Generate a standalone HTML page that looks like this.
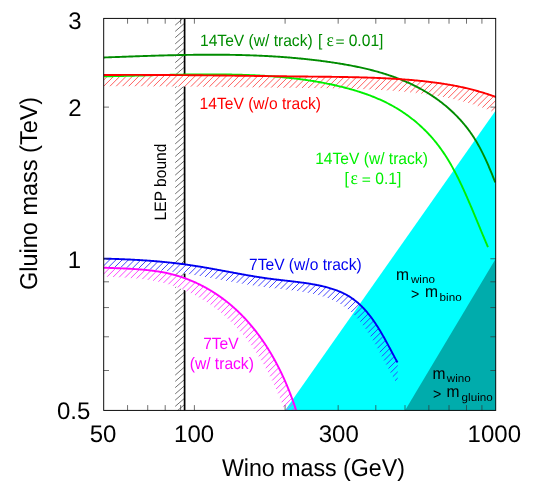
<!DOCTYPE html>
<html><head><meta charset="utf-8"><title>Gluino vs Wino mass</title>
<style>html,body{margin:0;padding:0;background:#fff;}svg{display:block;will-change:transform;font-family:"Liberation Sans",sans-serif;text-rendering:geometricPrecision;}</style>
</head><body>
<svg width="540" height="490" viewBox="0 0 540 490">
<rect x="0" y="0" width="540" height="490" fill="#fff"/>
<defs>
<clipPath id="plot"><rect x="103.70" y="18.40" width="392.00" height="392.00"/></clipPath>
<clipPath id="blueclip"><rect x="103.70" y="18.40" width="294.00" height="392.00"/></clipPath>
</defs>
<g clip-path="url(#plot)">
<path d="M175.20 12.65 L184.60 4.45 M175.20 18.90 L184.60 10.70 M175.20 25.15 L184.60 16.95 M175.20 31.40 L184.60 23.20 M175.20 37.65 L184.60 29.45 M175.20 43.90 L184.60 35.70 M175.20 50.15 L184.60 41.95 M175.20 56.40 L184.60 48.20 M175.20 62.65 L184.60 54.45 M175.20 68.90 L184.60 60.70 M175.20 75.15 L184.60 66.95 M175.20 81.40 L184.60 73.20 M175.20 87.65 L184.60 79.45 M175.20 93.90 L184.60 85.70 M175.20 100.15 L184.60 91.95 M175.20 106.40 L184.60 98.20 M175.20 112.65 L184.60 104.45 M175.20 118.90 L184.60 110.70 M175.20 125.15 L184.60 116.95 M175.20 131.40 L184.60 123.20 M175.20 137.65 L184.60 129.45 M175.20 143.90 L184.60 135.70 M175.20 150.15 L184.60 141.95 M175.20 156.40 L184.60 148.20 M175.20 162.65 L184.60 154.45 M175.20 168.90 L184.60 160.70 M175.20 175.15 L184.60 166.95 M175.20 181.40 L184.60 173.20 M175.20 187.65 L184.60 179.45 M175.20 193.90 L184.60 185.70 M175.20 200.15 L184.60 191.95 M175.20 206.40 L184.60 198.20 M175.20 212.65 L184.60 204.45 M175.20 218.90 L184.60 210.70 M175.20 225.15 L184.60 216.95 M175.20 231.40 L184.60 223.20 M175.20 237.65 L184.60 229.45 M175.20 243.90 L184.60 235.70 M175.20 250.15 L184.60 241.95 M175.20 256.40 L184.60 248.20 M175.20 262.65 L184.60 254.45 M175.20 268.90 L184.60 260.70 M175.20 275.15 L184.60 266.95 M175.20 281.40 L184.60 273.20 M175.20 287.65 L184.60 279.45 M175.20 293.90 L184.60 285.70 M175.20 300.15 L184.60 291.95 M175.20 306.40 L184.60 298.20 M175.20 312.65 L184.60 304.45 M175.20 318.90 L184.60 310.70 M175.20 325.15 L184.60 316.95 M175.20 331.40 L184.60 323.20 M175.20 337.65 L184.60 329.45 M175.20 343.90 L184.60 335.70 M175.20 350.15 L184.60 341.95 M175.20 356.40 L184.60 348.20 M175.20 362.65 L184.60 354.45 M175.20 368.90 L184.60 360.70 M175.20 375.15 L184.60 366.95 M175.20 381.40 L184.60 373.20 M175.20 387.65 L184.60 379.45 M175.20 393.90 L184.60 385.70 M175.20 400.15 L184.60 391.95 M175.20 406.40 L184.60 398.20 M175.20 412.65 L184.60 404.45 M175.20 418.90 L184.60 410.70" stroke="#222" stroke-width="0.65" fill="none"/>
<line x1="184.60" y1="18.40" x2="184.60" y2="410.40" stroke="#000" stroke-width="1.7"/>
<path d="M103.50 75.00 L104.52 74.99 L105.54 74.99 L106.56 74.98 L107.59 74.98 L108.61 74.97 L109.63 74.97 L110.65 74.96 L111.67 74.96 L112.69 74.95 L113.71 74.95 L114.74 74.95 L115.76 74.94 L116.78 74.94 L117.80 74.93 L118.82 74.93 L119.84 74.93 L120.86 74.93 L121.88 74.92 L122.91 74.92 L123.93 74.92 L124.95 74.92 L125.97 74.92 L126.99 74.92 L128.01 74.92 L129.03 74.91 L130.06 74.91 L131.08 74.91 L132.10 74.91 L133.12 74.91 L134.14 74.91 L135.16 74.91 L136.18 74.92 L137.21 74.92 L138.23 74.92 L139.25 74.92 L140.27 74.92 L141.29 74.92 L142.31 74.92 L143.33 74.93 L144.36 74.93 L145.38 74.93 L146.40 74.93 L147.42 74.94 L148.44 74.94 L149.46 74.94 L150.48 74.95 L151.51 74.95 L152.53 74.95 L153.55 74.96 L154.57 74.96 L155.59 74.97 L156.61 74.97 L157.63 74.97 L158.66 74.98 L159.68 74.98 L160.70 74.99 L161.72 74.99 L162.74 75.00 L163.76 75.01 L164.78 75.01 L165.81 75.02 L166.83 75.02 L167.85 75.03 L168.87 75.04 L169.89 75.04 L170.91 75.05 L171.93 75.05 L172.96 75.06 L173.98 75.07 L175.00 75.08 L176.02 75.08 L177.04 75.09 L178.06 75.10 L179.08 75.11 L180.10 75.11 L181.13 75.12 L182.15 75.13 L183.17 75.14 L184.19 75.15 L185.21 75.15 L186.23 75.16 L187.25 75.17 L188.28 75.18 L189.30 75.19 L190.32 75.20 L191.34 75.21 L192.36 75.22 L193.38 75.23 L194.40 75.24 L195.43 75.25 L196.45 75.26 L197.47 75.27 L198.49 75.28 L199.51 75.29 L200.53 75.30 L201.55 75.31 L202.57 75.32 L203.60 75.33 L204.62 75.34 L205.64 75.35 L206.66 75.36 L207.68 75.37 L208.70 75.38 L209.72 75.39 L210.75 75.40 L211.77 75.41 L212.79 75.42 L213.81 75.43 L214.83 75.45 L215.85 75.46 L216.87 75.47 L217.90 75.48 L218.92 75.49 L219.94 75.50 L220.96 75.52 L221.98 75.53 L223.00 75.54 L224.02 75.55 L225.04 75.56 L226.07 75.57 L227.09 75.59 L228.11 75.60 L229.13 75.61 L230.15 75.62 L231.17 75.64 L232.19 75.65 L233.22 75.66 L234.24 75.67 L235.26 75.68 L236.28 75.70 L237.30 75.71 L238.32 75.72 L239.34 75.73 L240.36 75.75 L241.39 75.76 L242.41 75.77 L243.43 75.79 L244.45 75.80 L245.47 75.81 L246.49 75.82 L247.51 75.84 L248.54 75.85 L249.56 75.86 L250.58 75.87 L251.60 75.89 L252.62 75.90 L253.64 75.91 L254.66 75.93 L255.68 75.94 L256.71 75.95 L257.73 75.96 L258.75 75.98 L259.77 75.99 L260.79 76.00 L261.81 76.02 L262.83 76.03 L263.86 76.04 L264.88 76.05 L265.90 76.07 L266.92 76.08 L267.94 76.09 L268.96 76.11 L269.98 76.12 L271.00 76.13 L272.03 76.14 L273.05 76.16 L274.07 76.17 L275.09 76.18 L276.11 76.19 L277.13 76.21 L278.15 76.22 L279.18 76.23 L280.20 76.24 L281.22 76.26 L282.24 76.27 L283.26 76.28 L284.28 76.29 L285.30 76.31 L286.32 76.32 L287.35 76.33 L288.37 76.34 L289.39 76.36 L290.41 76.37 L291.43 76.38 L292.45 76.39 L293.47 76.40 L294.50 76.42 L295.52 76.43 L296.54 76.44 L297.56 76.45 L298.58 76.46 L299.60 76.47 L300.62 76.49 L301.64 76.50 L302.67 76.51 L303.69 76.52 L304.71 76.53 L305.73 76.54 L306.75 76.55 L307.77 76.56 L308.79 76.58 L309.82 76.59 L310.84 76.60 L311.86 76.61 L312.88 76.62 L313.90 76.63 L314.92 76.64 L315.94 76.65 L316.96 76.66 L317.99 76.67 L319.01 76.68 L320.03 76.69 L321.05 76.70 L322.07 76.71 L323.09 76.73 L324.11 76.74 L325.14 76.75 L326.16 76.76 L327.18 76.77 L328.20 76.78 L329.22 76.80 L330.24 76.81 L331.26 76.82 L332.28 76.83 L333.31 76.85 L334.33 76.86 L335.35 76.87 L336.37 76.89 L337.39 76.90 L338.41 76.92 L339.43 76.93 L340.46 76.95 L341.48 76.97 L342.50 76.98 L343.52 77.00 L344.54 77.02 L345.56 77.04 L346.58 77.05 L347.60 77.07 L348.63 77.09 L349.65 77.11 L350.67 77.13 L351.69 77.15 L352.71 77.18 L353.73 77.20 L354.75 77.22 L355.77 77.25 L356.79 77.27 L357.82 77.30 L358.84 77.32 L359.86 77.35 L360.88 77.38 L361.90 77.40 L362.92 77.43 L363.94 77.46 L364.96 77.49 L365.98 77.53 L367.00 77.56 L368.03 77.59 L369.05 77.63 L370.07 77.66 L371.09 77.70 L372.11 77.73 L373.13 77.77 L374.15 77.81 L375.17 77.85 L376.19 77.89 L377.21 77.93 L378.23 77.97 L379.25 78.02 L380.27 78.06 L381.29 78.11 L382.31 78.16 L383.33 78.20 L384.35 78.25 L385.37 78.30 L386.39 78.35 L387.41 78.41 L388.43 78.46 L389.45 78.52 L390.47 78.57 L391.49 78.63 L392.51 78.69 L393.53 78.75 L394.55 78.81 L395.57 78.87 L396.59 78.94 L397.61 79.00 L398.63 79.07 L399.65 79.14 L400.67 79.21 L401.69 79.28 L402.71 79.35 L403.73 79.43 L404.74 79.50 L405.76 79.58 L406.78 79.66 L407.80 79.74 L408.82 79.82 L409.84 79.90 L410.85 79.99 L411.87 80.07 L412.89 80.16 L413.91 80.25 L414.92 80.34 L415.94 80.44 L416.96 80.53 L417.97 80.63 L418.99 80.73 L420.01 80.83 L421.02 80.93 L422.04 81.03 L423.06 81.14 L424.07 81.25 L425.09 81.36 L426.10 81.47 L427.12 81.59 L428.13 81.71 L429.15 81.83 L430.16 81.95 L431.17 82.07 L432.19 82.20 L433.20 82.33 L434.21 82.46 L435.23 82.59 L436.24 82.73 L437.25 82.87 L438.26 83.01 L439.27 83.15 L440.28 83.30 L441.29 83.45 L442.30 83.60 L443.31 83.76 L444.32 83.92 L445.33 84.08 L446.34 84.24 L447.35 84.41 L448.35 84.58 L449.36 84.75 L450.37 84.93 L451.37 85.11 L452.38 85.29 L453.38 85.48 L454.39 85.66 L455.39 85.86 L456.39 86.05 L457.39 86.25 L458.39 86.45 L459.39 86.66 L460.39 86.87 L461.39 87.08 L462.39 87.29 L463.39 87.51 L464.39 87.74 L465.38 87.96 L466.38 88.19 L467.37 88.43 L468.37 88.67 L469.36 88.91 L470.35 89.15 L471.34 89.40 L472.33 89.66 L473.32 89.91 L474.31 90.17 L475.29 90.44 L476.28 90.71 L477.26 90.98 L478.24 91.26 L479.23 91.54 L480.21 91.82 L481.19 92.11 L482.17 92.41 L483.14 92.70 L484.12 93.01 L485.09 93.31 L486.07 93.62 L487.04 93.94 L488.01 94.26 L488.98 94.58 L489.94 94.91 L490.91 95.24 L491.87 95.58 L492.84 95.92 L493.80 96.26 L494.76 96.61 L495.72 96.97 L496.67 97.33 L497.63 97.69 L498.58 98.06 L499.53 98.43 L500.48 98.81 L501.43 99.19 L502.37 99.58 L503.31 99.97 L504.26 100.37 L505.19 100.77 L506.13 101.17 L507.07 101.58 L508.00 102.00 L496.70 113.30 L495.77 112.88 L494.83 112.47 L493.89 112.07 L492.96 111.67 L492.01 111.27 L491.07 110.88 L490.13 110.49 L489.18 110.11 L488.23 109.73 L487.28 109.36 L486.33 108.99 L485.37 108.63 L484.42 108.27 L483.46 107.91 L482.50 107.56 L481.54 107.22 L480.57 106.88 L479.61 106.54 L478.64 106.21 L477.68 105.88 L476.71 105.56 L475.74 105.24 L474.77 104.92 L473.79 104.61 L472.82 104.31 L471.84 104.00 L470.87 103.71 L469.89 103.41 L468.91 103.12 L467.93 102.84 L466.94 102.56 L465.96 102.28 L464.98 102.01 L463.99 101.74 L463.01 101.47 L462.02 101.21 L461.03 100.96 L460.04 100.70 L459.05 100.45 L458.06 100.21 L457.07 99.97 L456.07 99.73 L455.08 99.49 L454.08 99.26 L453.09 99.04 L452.09 98.81 L451.09 98.59 L450.09 98.38 L449.09 98.17 L448.09 97.96 L447.09 97.75 L446.09 97.55 L445.09 97.35 L444.09 97.16 L443.09 96.96 L442.08 96.78 L441.08 96.59 L440.07 96.41 L439.07 96.23 L438.06 96.05 L437.05 95.88 L436.05 95.71 L435.04 95.54 L434.03 95.38 L433.02 95.22 L432.01 95.06 L431.00 94.90 L429.99 94.75 L428.98 94.60 L427.97 94.45 L426.96 94.31 L425.95 94.17 L424.94 94.03 L423.93 93.89 L422.91 93.76 L421.90 93.63 L420.89 93.50 L419.87 93.37 L418.86 93.25 L417.85 93.13 L416.83 93.01 L415.82 92.89 L414.80 92.77 L413.79 92.66 L412.77 92.55 L411.76 92.44 L410.74 92.33 L409.72 92.23 L408.71 92.13 L407.69 92.03 L406.67 91.93 L405.66 91.83 L404.64 91.74 L403.62 91.64 L402.61 91.55 L401.59 91.46 L400.57 91.37 L399.55 91.29 L398.54 91.20 L397.52 91.12 L396.50 91.04 L395.48 90.96 L394.46 90.88 L393.44 90.80 L392.43 90.73 L391.41 90.65 L390.39 90.58 L389.37 90.51 L388.35 90.44 L387.33 90.37 L386.31 90.30 L385.29 90.24 L384.27 90.17 L383.25 90.11 L382.23 90.05 L381.21 89.99 L380.19 89.93 L379.17 89.87 L378.15 89.82 L377.13 89.76 L376.11 89.71 L375.09 89.65 L374.07 89.60 L373.05 89.55 L372.03 89.50 L371.01 89.46 L369.99 89.41 L368.97 89.36 L367.95 89.32 L366.93 89.27 L365.91 89.23 L364.89 89.19 L363.87 89.15 L362.85 89.11 L361.83 89.07 L360.81 89.03 L359.79 89.00 L358.77 88.96 L357.75 88.93 L356.73 88.89 L355.70 88.86 L354.68 88.83 L353.66 88.79 L352.64 88.76 L351.62 88.73 L350.60 88.70 L349.58 88.68 L348.56 88.65 L347.54 88.62 L346.52 88.60 L345.49 88.57 L344.47 88.55 L343.45 88.52 L342.43 88.50 L341.41 88.48 L340.39 88.45 L339.37 88.43 L338.35 88.41 L337.33 88.39 L336.30 88.37 L335.28 88.35 L334.26 88.34 L333.24 88.32 L332.22 88.30 L331.20 88.28 L330.18 88.27 L329.16 88.25 L328.13 88.23 L327.11 88.22 L326.09 88.20 L325.07 88.19 L324.05 88.17 L323.03 88.16 L322.01 88.15 L320.98 88.13 L319.96 88.12 L318.94 88.11 L317.92 88.10 L316.90 88.08 L315.88 88.07 L314.86 88.06 L313.84 88.05 L312.81 88.04 L311.79 88.03 L310.77 88.01 L309.75 88.00 L308.73 87.99 L307.71 87.98 L306.69 87.97 L305.66 87.96 L304.64 87.95 L303.62 87.94 L302.60 87.93 L301.58 87.92 L300.56 87.91 L299.54 87.90 L298.52 87.89 L297.49 87.88 L296.47 87.86 L295.45 87.85 L294.43 87.84 L293.41 87.83 L292.39 87.82 L291.37 87.81 L290.34 87.80 L289.32 87.79 L288.30 87.77 L287.28 87.76 L286.26 87.75 L285.24 87.74 L284.22 87.73 L283.20 87.72 L282.17 87.70 L281.15 87.69 L280.13 87.68 L279.11 87.67 L278.09 87.66 L277.07 87.64 L276.05 87.63 L275.02 87.62 L274.00 87.61 L272.98 87.59 L271.96 87.58 L270.94 87.57 L269.92 87.56 L268.90 87.54 L267.88 87.53 L266.85 87.52 L265.83 87.51 L264.81 87.49 L263.79 87.48 L262.77 87.47 L261.75 87.46 L260.73 87.44 L259.70 87.43 L258.68 87.42 L257.66 87.41 L256.64 87.39 L255.62 87.38 L254.60 87.37 L253.58 87.35 L252.56 87.34 L251.53 87.33 L250.51 87.32 L249.49 87.30 L248.47 87.29 L247.45 87.28 L246.43 87.26 L245.41 87.25 L244.38 87.24 L243.36 87.23 L242.34 87.21 L241.32 87.20 L240.30 87.19 L239.28 87.17 L238.26 87.16 L237.24 87.15 L236.21 87.14 L235.19 87.12 L234.17 87.11 L233.15 87.10 L232.13 87.09 L231.11 87.07 L230.09 87.06 L229.06 87.05 L228.04 87.03 L227.02 87.02 L226.00 87.01 L224.98 87.00 L223.96 86.98 L222.94 86.97 L221.92 86.96 L220.89 86.95 L219.87 86.94 L218.85 86.92 L217.83 86.91 L216.81 86.90 L215.79 86.89 L214.77 86.87 L213.74 86.86 L212.72 86.85 L211.70 86.84 L210.68 86.83 L209.66 86.82 L208.64 86.80 L207.62 86.79 L206.60 86.78 L205.57 86.77 L204.55 86.76 L203.53 86.75 L202.51 86.73 L201.49 86.72 L200.47 86.71 L199.45 86.70 L198.42 86.69 L197.40 86.68 L196.38 86.67 L195.36 86.66 L194.34 86.65 L193.32 86.64 L192.30 86.63 L191.27 86.62 L190.25 86.61 L189.23 86.60 L188.21 86.59 L187.19 86.58 L186.17 86.57 L185.15 86.56 L184.13 86.55 L183.10 86.54 L182.08 86.53 L181.06 86.52 L180.04 86.51 L179.02 86.50 L178.00 86.49 L176.98 86.48 L175.95 86.47 L174.93 86.46 L173.91 86.45 L172.89 86.45 L171.87 86.44 L170.85 86.43 L169.83 86.42 L168.80 86.41 L167.78 86.41 L166.76 86.40 L165.74 86.39 L164.72 86.38 L163.70 86.38 L162.68 86.37 L161.66 86.36 L160.63 86.35 L159.61 86.35 L158.59 86.34 L157.57 86.34 L156.55 86.33 L155.53 86.32 L154.51 86.32 L153.48 86.31 L152.46 86.31 L151.44 86.30 L150.42 86.29 L149.40 86.29 L148.38 86.28 L147.36 86.28 L146.33 86.27 L145.31 86.27 L144.29 86.27 L143.27 86.26 L142.25 86.26 L141.23 86.25 L140.21 86.25 L139.18 86.25 L138.16 86.24 L137.14 86.24 L136.12 86.24 L135.10 86.23 L134.08 86.23 L133.06 86.23 L132.03 86.23 L131.01 86.22 L129.99 86.22 L128.97 86.22 L127.95 86.22 L126.93 86.22 L125.91 86.22 L124.88 86.22 L123.86 86.21 L122.84 86.21 L121.82 86.21 L120.80 86.21 L119.78 86.21 L118.76 86.21 L117.73 86.21 L116.71 86.22 L115.69 86.22 L114.67 86.22 L113.65 86.22 L112.63 86.22 L111.61 86.22 L110.58 86.22 L109.56 86.23 L108.54 86.23 L107.52 86.23 L106.50 86.23 L105.48 86.24 L104.46 86.24 L103.44 86.25 L102.41 86.25 L101.39 86.25 L100.37 86.26 L99.35 86.26 L98.33 86.27 L97.31 86.27 L96.29 86.28 L95.26 86.28 L94.24 86.29 L93.22 86.29 L92.20 86.30 Z" fill="#fff"/>
<path d="M103.50 258.60 L104.33 258.62 L105.17 258.64 L106.00 258.67 L106.83 258.69 L107.67 258.71 L108.50 258.74 L109.33 258.76 L110.17 258.79 L111.00 258.81 L111.83 258.84 L112.66 258.87 L113.50 258.89 L114.33 258.92 L115.16 258.95 L116.00 258.98 L116.83 259.01 L117.66 259.04 L118.50 259.07 L119.33 259.10 L120.16 259.13 L120.99 259.17 L121.83 259.20 L122.66 259.23 L123.49 259.27 L124.33 259.30 L125.16 259.34 L125.99 259.38 L126.82 259.41 L127.66 259.45 L128.49 259.49 L129.32 259.53 L130.15 259.57 L130.99 259.61 L131.82 259.65 L132.65 259.70 L133.48 259.74 L134.32 259.78 L135.15 259.83 L135.98 259.88 L136.81 259.92 L137.64 259.97 L138.48 260.02 L139.31 260.07 L140.14 260.12 L140.97 260.17 L141.80 260.22 L142.64 260.27 L143.47 260.33 L144.30 260.38 L145.13 260.44 L145.96 260.49 L146.79 260.55 L147.63 260.61 L148.46 260.67 L149.29 260.73 L150.12 260.79 L150.95 260.85 L151.78 260.92 L152.61 260.98 L153.44 261.05 L154.27 261.11 L155.11 261.18 L155.94 261.25 L156.77 261.32 L157.60 261.39 L158.43 261.46 L159.26 261.54 L160.09 261.61 L160.92 261.68 L161.75 261.76 L162.58 261.84 L163.41 261.92 L164.24 262.00 L165.07 262.08 L165.90 262.16 L166.73 262.24 L167.56 262.33 L168.38 262.41 L169.21 262.50 L170.04 262.59 L170.87 262.68 L171.70 262.77 L172.53 262.86 L173.36 262.95 L174.18 263.05 L175.01 263.14 L175.84 263.24 L176.67 263.34 L177.50 263.44 L178.32 263.54 L179.15 263.64 L179.98 263.74 L180.80 263.85 L181.63 263.95 L182.46 264.06 L183.28 264.17 L184.11 264.28 L184.94 264.39 L185.76 264.50 L186.59 264.62 L187.41 264.73 L188.24 264.85 L189.06 264.97 L189.89 265.09 L190.71 265.21 L191.54 265.33 L192.36 265.46 L193.18 265.58 L194.01 265.71 L194.83 265.84 L195.66 265.97 L196.48 266.10 L197.30 266.23 L198.12 266.36 L198.95 266.50 L199.77 266.63 L200.59 266.77 L201.41 266.91 L202.24 267.04 L203.06 267.18 L203.88 267.32 L204.70 267.46 L205.52 267.60 L206.34 267.75 L207.17 267.89 L207.99 268.03 L208.81 268.18 L209.63 268.32 L210.45 268.47 L211.27 268.62 L212.09 268.76 L212.91 268.91 L213.73 269.06 L214.55 269.21 L215.37 269.36 L216.19 269.51 L217.01 269.66 L217.83 269.81 L218.65 269.96 L219.47 270.11 L220.29 270.26 L221.11 270.41 L221.93 270.56 L222.75 270.72 L223.57 270.87 L224.39 271.02 L225.21 271.17 L226.03 271.32 L226.84 271.48 L227.66 271.63 L228.48 271.78 L229.30 271.93 L230.12 272.09 L230.94 272.24 L231.76 272.39 L232.58 272.54 L233.40 272.69 L234.22 272.85 L235.04 273.00 L235.86 273.15 L236.68 273.30 L237.50 273.45 L238.32 273.60 L239.14 273.75 L239.96 273.90 L240.78 274.05 L241.60 274.19 L242.42 274.34 L243.24 274.49 L244.06 274.63 L244.88 274.78 L245.70 274.92 L246.52 275.07 L247.34 275.21 L248.17 275.35 L248.99 275.50 L249.81 275.64 L250.63 275.78 L251.45 275.92 L252.27 276.05 L253.10 276.19 L253.92 276.33 L254.74 276.46 L255.56 276.60 L256.39 276.73 L257.21 276.86 L258.03 276.99 L258.86 277.12 L259.68 277.25 L260.50 277.38 L261.33 277.50 L262.15 277.63 L262.98 277.75 L263.80 277.87 L264.62 277.99 L265.45 278.11 L266.27 278.23 L267.10 278.35 L267.93 278.46 L268.75 278.57 L269.58 278.68 L270.40 278.79 L271.23 278.90 L272.06 279.01 L272.88 279.11 L273.71 279.22 L274.54 279.32 L275.37 279.42 L276.19 279.52 L277.02 279.62 L277.85 279.72 L278.68 279.81 L279.50 279.91 L280.33 280.00 L281.16 280.10 L281.99 280.19 L282.82 280.29 L283.64 280.38 L284.47 280.48 L285.30 280.57 L286.13 280.66 L286.96 280.76 L287.79 280.85 L288.61 280.95 L289.44 281.04 L290.27 281.14 L291.10 281.23 L291.93 281.33 L292.75 281.43 L293.58 281.52 L294.41 281.62 L295.24 281.72 L296.06 281.82 L296.89 281.93 L297.72 282.03 L298.54 282.14 L299.37 282.24 L300.20 282.35 L301.02 282.46 L301.85 282.57 L302.68 282.68 L303.50 282.80 L304.33 282.92 L305.15 283.03 L305.98 283.16 L306.80 283.28 L307.62 283.40 L308.45 283.53 L309.27 283.66 L310.09 283.79 L310.92 283.93 L311.74 284.07 L312.56 284.21 L313.38 284.35 L314.20 284.50 L315.02 284.65 L315.84 284.80 L316.66 284.96 L317.48 285.12 L318.29 285.29 L319.11 285.45 L319.93 285.63 L320.74 285.80 L321.55 285.98 L322.37 286.17 L323.18 286.36 L323.99 286.55 L324.80 286.75 L325.61 286.96 L326.41 287.17 L327.22 287.38 L328.02 287.60 L328.83 287.83 L329.63 288.06 L330.43 288.29 L331.22 288.54 L332.02 288.79 L332.81 289.04 L333.60 289.30 L334.39 289.57 L335.18 289.85 L335.96 290.13 L336.74 290.42 L337.52 290.72 L338.30 291.02 L339.07 291.33 L339.84 291.65 L340.61 291.98 L341.37 292.32 L342.13 292.66 L342.88 293.01 L343.64 293.38 L344.38 293.74 L345.13 294.12 L345.86 294.51 L346.60 294.91 L347.32 295.31 L348.05 295.73 L348.76 296.15 L349.48 296.59 L350.18 297.03 L350.88 297.49 L351.57 297.95 L352.26 298.42 L352.94 298.90 L353.61 299.39 L354.28 299.89 L354.94 300.40 L355.60 300.91 L356.25 301.44 L356.89 301.97 L357.53 302.51 L358.16 303.05 L358.78 303.61 L359.40 304.17 L360.01 304.73 L360.61 305.31 L361.21 305.89 L361.80 306.47 L362.39 307.06 L362.97 307.66 L363.55 308.26 L364.12 308.87 L364.68 309.49 L365.24 310.11 L365.79 310.73 L366.34 311.36 L366.88 311.99 L367.42 312.63 L367.95 313.27 L368.48 313.92 L369.00 314.57 L369.51 315.22 L370.03 315.88 L370.53 316.54 L371.04 317.20 L371.53 317.87 L372.03 318.54 L372.52 319.22 L373.00 319.90 L373.48 320.58 L373.96 321.26 L374.43 321.95 L374.90 322.64 L375.37 323.33 L375.83 324.02 L376.29 324.72 L376.74 325.42 L377.19 326.12 L377.64 326.82 L378.09 327.53 L378.53 328.23 L378.97 328.94 L379.40 329.65 L379.84 330.36 L380.27 331.08 L380.69 331.79 L381.12 332.51 L381.54 333.23 L381.96 333.95 L382.38 334.67 L382.79 335.39 L383.21 336.12 L383.62 336.84 L384.03 337.57 L384.44 338.29 L384.84 339.02 L385.25 339.75 L385.65 340.48 L386.05 341.21 L386.45 341.94 L386.85 342.67 L387.25 343.41 L387.65 344.14 L388.04 344.87 L388.44 345.61 L388.83 346.34 L389.22 347.08 L389.62 347.81 L390.01 348.55 L390.40 349.28 L390.79 350.02 L391.18 350.75 L391.57 351.49 L391.96 352.23 L392.36 352.96 L392.75 353.70 L393.14 354.43 L393.53 355.17 L393.92 355.91 L394.32 356.64 L394.71 357.37 L395.10 358.11 L395.50 358.84 L395.90 359.58 L396.30 360.31 L396.70 361.04 L397.10 361.77 L397.50 362.50 L389.50 370.50 L389.10 369.77 L388.70 369.04 L388.30 368.31 L387.90 367.58 L387.50 366.84 L387.10 366.11 L386.71 365.37 L386.32 364.64 L385.92 363.91 L385.53 363.17 L385.14 362.43 L384.75 361.70 L384.36 360.96 L383.96 360.23 L383.57 359.49 L383.18 358.75 L382.79 358.02 L382.40 357.28 L382.01 356.55 L381.62 355.81 L381.22 355.08 L380.83 354.34 L380.44 353.61 L380.04 352.87 L379.65 352.14 L379.25 351.41 L378.85 350.67 L378.45 349.94 L378.05 349.21 L377.65 348.48 L377.25 347.75 L376.84 347.02 L376.44 346.29 L376.03 345.57 L375.62 344.84 L375.21 344.12 L374.79 343.39 L374.38 342.67 L373.96 341.95 L373.54 341.23 L373.12 340.51 L372.69 339.79 L372.27 339.08 L371.84 338.36 L371.40 337.65 L370.97 336.94 L370.53 336.23 L370.09 335.53 L369.64 334.82 L369.19 334.12 L368.74 333.42 L368.29 332.72 L367.83 332.02 L367.37 331.33 L366.90 330.64 L366.43 329.95 L365.96 329.26 L365.48 328.58 L365.00 327.90 L364.52 327.22 L364.03 326.54 L363.53 325.87 L363.04 325.20 L362.53 324.54 L362.03 323.88 L361.51 323.22 L361.00 322.57 L360.48 321.92 L359.95 321.27 L359.42 320.63 L358.88 319.99 L358.34 319.36 L357.79 318.73 L357.24 318.11 L356.68 317.49 L356.12 316.87 L355.55 316.26 L354.97 315.66 L354.39 315.06 L353.80 314.47 L353.21 313.89 L352.61 313.31 L352.01 312.73 L351.40 312.17 L350.78 311.61 L350.16 311.05 L349.53 310.51 L348.89 309.97 L348.25 309.44 L347.60 308.91 L346.94 308.40 L346.28 307.89 L345.61 307.39 L344.94 306.90 L344.26 306.42 L343.57 305.95 L342.88 305.49 L342.18 305.03 L341.48 304.59 L340.76 304.15 L340.05 303.73 L339.32 303.31 L338.60 302.91 L337.86 302.51 L337.13 302.12 L336.38 301.74 L335.64 301.38 L334.88 301.01 L334.13 300.66 L333.37 300.32 L332.61 299.98 L331.84 299.65 L331.07 299.33 L330.30 299.02 L329.52 298.72 L328.74 298.42 L327.96 298.13 L327.18 297.85 L326.39 297.57 L325.60 297.30 L324.81 297.04 L324.02 296.79 L323.22 296.54 L322.43 296.29 L321.63 296.06 L320.83 295.83 L320.02 295.60 L319.22 295.38 L318.41 295.17 L317.61 294.96 L316.80 294.75 L315.99 294.55 L315.18 294.36 L314.37 294.17 L313.55 293.98 L312.74 293.80 L311.93 293.63 L311.11 293.45 L310.29 293.29 L309.48 293.12 L308.66 292.96 L307.84 292.80 L307.02 292.65 L306.20 292.50 L305.38 292.35 L304.56 292.21 L303.74 292.07 L302.92 291.93 L302.09 291.79 L301.27 291.66 L300.45 291.53 L299.62 291.40 L298.80 291.28 L297.98 291.16 L297.15 291.03 L296.33 290.92 L295.50 290.80 L294.68 290.68 L293.85 290.57 L293.02 290.46 L292.20 290.35 L291.37 290.24 L290.54 290.14 L289.72 290.03 L288.89 289.93 L288.06 289.82 L287.24 289.72 L286.41 289.62 L285.58 289.52 L284.75 289.43 L283.93 289.33 L283.10 289.23 L282.27 289.14 L281.44 289.04 L280.61 288.95 L279.79 288.85 L278.96 288.76 L278.13 288.66 L277.30 288.57 L276.47 288.48 L275.64 288.38 L274.82 288.29 L273.99 288.19 L273.16 288.10 L272.33 288.00 L271.50 287.91 L270.68 287.81 L269.85 287.72 L269.02 287.62 L268.19 287.52 L267.37 287.42 L266.54 287.32 L265.71 287.22 L264.88 287.11 L264.06 287.01 L263.23 286.90 L262.40 286.79 L261.58 286.68 L260.75 286.57 L259.93 286.46 L259.10 286.35 L258.27 286.23 L257.45 286.11 L256.62 285.99 L255.80 285.87 L254.98 285.75 L254.15 285.63 L253.33 285.50 L252.50 285.38 L251.68 285.25 L250.86 285.12 L250.03 284.99 L249.21 284.86 L248.39 284.73 L247.56 284.60 L246.74 284.46 L245.92 284.33 L245.10 284.19 L244.27 284.05 L243.45 283.92 L242.63 283.78 L241.81 283.64 L240.99 283.50 L240.17 283.35 L239.34 283.21 L238.52 283.07 L237.70 282.92 L236.88 282.78 L236.06 282.63 L235.24 282.49 L234.42 282.34 L233.60 282.19 L232.78 282.05 L231.96 281.90 L231.14 281.75 L230.32 281.60 L229.50 281.45 L228.68 281.30 L227.86 281.15 L227.04 281.00 L226.22 280.85 L225.40 280.69 L224.58 280.54 L223.76 280.39 L222.94 280.24 L222.12 280.09 L221.30 279.93 L220.48 279.78 L219.66 279.63 L218.84 279.48 L218.03 279.32 L217.21 279.17 L216.39 279.02 L215.57 278.87 L214.75 278.72 L213.93 278.56 L213.11 278.41 L212.29 278.26 L211.47 278.11 L210.65 277.96 L209.83 277.81 L209.01 277.66 L208.19 277.51 L207.37 277.36 L206.55 277.21 L205.73 277.06 L204.91 276.91 L204.09 276.76 L203.27 276.62 L202.45 276.47 L201.63 276.32 L200.81 276.18 L199.99 276.03 L199.17 275.89 L198.34 275.75 L197.52 275.60 L196.70 275.46 L195.88 275.32 L195.06 275.18 L194.24 275.04 L193.41 274.91 L192.59 274.77 L191.77 274.63 L190.95 274.50 L190.12 274.36 L189.30 274.23 L188.48 274.10 L187.66 273.97 L186.83 273.84 L186.01 273.71 L185.18 273.58 L184.36 273.46 L183.54 273.33 L182.71 273.21 L181.89 273.09 L181.06 272.97 L180.24 272.85 L179.41 272.73 L178.59 272.62 L177.76 272.50 L176.94 272.39 L176.11 272.28 L175.28 272.17 L174.46 272.06 L173.63 271.95 L172.80 271.85 L171.98 271.74 L171.15 271.64 L170.32 271.54 L169.50 271.44 L168.67 271.34 L167.84 271.24 L167.01 271.14 L166.18 271.05 L165.36 270.95 L164.53 270.86 L163.70 270.77 L162.87 270.68 L162.04 270.59 L161.21 270.50 L160.38 270.41 L159.56 270.33 L158.73 270.24 L157.90 270.16 L157.07 270.08 L156.24 270.00 L155.41 269.92 L154.58 269.84 L153.75 269.76 L152.92 269.68 L152.09 269.61 L151.26 269.54 L150.43 269.46 L149.60 269.39 L148.77 269.32 L147.94 269.25 L147.11 269.18 L146.27 269.11 L145.44 269.05 L144.61 268.98 L143.78 268.92 L142.95 268.85 L142.12 268.79 L141.29 268.73 L140.46 268.67 L139.63 268.61 L138.79 268.55 L137.96 268.49 L137.13 268.44 L136.30 268.38 L135.47 268.33 L134.64 268.27 L133.80 268.22 L132.97 268.17 L132.14 268.12 L131.31 268.07 L130.48 268.02 L129.64 267.97 L128.81 267.92 L127.98 267.88 L127.15 267.83 L126.32 267.78 L125.48 267.74 L124.65 267.70 L123.82 267.65 L122.99 267.61 L122.15 267.57 L121.32 267.53 L120.49 267.49 L119.66 267.45 L118.82 267.41 L117.99 267.38 L117.16 267.34 L116.33 267.30 L115.49 267.27 L114.66 267.23 L113.83 267.20 L112.99 267.17 L112.16 267.13 L111.33 267.10 L110.50 267.07 L109.66 267.04 L108.83 267.01 L108.00 266.98 L107.16 266.95 L106.33 266.92 L105.50 266.89 L104.66 266.87 L103.83 266.84 L103.00 266.81 L102.17 266.79 L101.33 266.76 L100.50 266.74 L99.67 266.71 L98.83 266.69 L98.00 266.67 L97.17 266.64 L96.33 266.62 L95.50 266.60 Z" fill="#fff"/>
<path d="M103.50 267.70 L104.15 267.72 L104.81 267.75 L105.46 267.77 L106.12 267.80 L106.77 267.82 L107.42 267.85 L108.08 267.87 L108.73 267.89 L109.38 267.92 L110.04 267.94 L110.69 267.97 L111.35 267.99 L112.00 268.01 L112.65 268.04 L113.31 268.06 L113.96 268.09 L114.61 268.11 L115.27 268.13 L115.92 268.16 L116.58 268.18 L117.23 268.21 L117.88 268.23 L118.54 268.26 L119.19 268.29 L119.84 268.31 L120.50 268.34 L121.15 268.37 L121.81 268.40 L122.46 268.42 L123.11 268.45 L123.77 268.48 L124.42 268.51 L125.07 268.54 L125.73 268.57 L126.38 268.60 L127.03 268.64 L127.69 268.67 L128.34 268.70 L128.99 268.74 L129.65 268.77 L130.30 268.81 L130.95 268.85 L131.61 268.88 L132.26 268.92 L132.91 268.96 L133.57 269.00 L134.22 269.04 L134.87 269.08 L135.52 269.13 L136.18 269.17 L136.83 269.22 L137.48 269.26 L138.14 269.31 L138.79 269.36 L139.44 269.41 L140.09 269.46 L140.74 269.51 L141.40 269.56 L142.05 269.62 L142.70 269.67 L143.35 269.73 L144.00 269.79 L144.66 269.85 L145.31 269.91 L145.96 269.97 L146.61 270.04 L147.26 270.10 L147.91 270.17 L148.56 270.24 L149.21 270.31 L149.86 270.38 L150.51 270.46 L151.16 270.54 L151.81 270.61 L152.46 270.70 L153.11 270.78 L153.76 270.86 L154.41 270.95 L155.05 271.04 L155.70 271.13 L156.35 271.22 L157.00 271.32 L157.64 271.42 L158.29 271.52 L158.94 271.62 L159.58 271.72 L160.23 271.83 L160.87 271.94 L161.52 272.05 L162.16 272.17 L162.81 272.28 L163.45 272.40 L164.09 272.53 L164.73 272.65 L165.37 272.78 L166.02 272.91 L166.66 273.04 L167.30 273.18 L167.94 273.32 L168.57 273.46 L169.21 273.61 L169.85 273.76 L170.49 273.91 L171.12 274.06 L171.76 274.22 L172.39 274.38 L173.02 274.55 L173.66 274.71 L174.29 274.88 L174.92 275.06 L175.55 275.23 L176.18 275.41 L176.81 275.59 L177.43 275.78 L178.06 275.97 L178.69 276.16 L179.31 276.35 L179.93 276.55 L180.56 276.75 L181.18 276.95 L181.80 277.16 L182.42 277.37 L183.04 277.58 L183.66 277.80 L184.27 278.01 L184.89 278.23 L185.50 278.46 L186.12 278.68 L186.73 278.91 L187.34 279.15 L187.95 279.38 L188.56 279.62 L189.17 279.86 L189.78 280.10 L190.38 280.35 L190.99 280.60 L191.59 280.85 L192.20 281.10 L192.80 281.36 L193.40 281.62 L194.00 281.88 L194.60 282.15 L195.19 282.42 L195.79 282.69 L196.38 282.96 L196.98 283.24 L197.57 283.51 L198.16 283.80 L198.75 284.08 L199.34 284.37 L199.92 284.65 L200.51 284.95 L201.09 285.24 L201.68 285.54 L202.26 285.84 L202.84 286.14 L203.42 286.44 L203.99 286.75 L204.57 287.06 L205.15 287.37 L205.72 287.69 L206.29 288.00 L206.86 288.32 L207.43 288.65 L208.00 288.97 L208.57 289.30 L209.13 289.63 L209.70 289.96 L210.26 290.29 L210.82 290.63 L211.38 290.97 L211.94 291.31 L212.49 291.66 L213.05 292.00 L213.60 292.35 L214.15 292.70 L214.70 293.06 L215.25 293.41 L215.80 293.77 L216.35 294.13 L216.89 294.49 L217.43 294.86 L217.97 295.23 L218.51 295.60 L219.05 295.97 L219.59 296.34 L220.12 296.72 L220.66 297.10 L221.19 297.48 L221.72 297.86 L222.25 298.25 L222.77 298.63 L223.30 299.02 L223.82 299.42 L224.35 299.81 L224.87 300.21 L225.38 300.61 L225.90 301.01 L226.42 301.41 L226.93 301.82 L227.44 302.22 L227.95 302.63 L228.46 303.05 L228.97 303.46 L229.47 303.88 L229.97 304.29 L230.48 304.71 L230.98 305.14 L231.47 305.56 L231.97 305.99 L232.46 306.42 L232.96 306.85 L233.45 307.28 L233.94 307.71 L234.42 308.15 L234.91 308.59 L235.39 309.03 L235.88 309.47 L236.36 309.92 L236.83 310.36 L237.31 310.81 L237.79 311.26 L238.26 311.71 L238.73 312.16 L239.20 312.62 L239.67 313.08 L240.14 313.54 L240.60 314.00 L241.06 314.46 L241.52 314.92 L241.98 315.39 L242.44 315.86 L242.89 316.33 L243.35 316.80 L243.80 317.27 L244.25 317.75 L244.70 318.22 L245.15 318.70 L245.59 319.18 L246.03 319.66 L246.48 320.14 L246.91 320.63 L247.35 321.12 L247.79 321.60 L248.22 322.09 L248.66 322.58 L249.09 323.08 L249.52 323.57 L249.94 324.06 L250.37 324.56 L250.79 325.06 L251.21 325.56 L251.63 326.06 L252.05 326.56 L252.47 327.07 L252.88 327.57 L253.30 328.08 L253.71 328.59 L254.12 329.10 L254.53 329.61 L254.93 330.12 L255.34 330.64 L255.74 331.15 L256.14 331.67 L256.54 332.19 L256.94 332.71 L257.34 333.23 L257.73 333.75 L258.12 334.27 L258.51 334.80 L258.90 335.32 L259.29 335.85 L259.68 336.38 L260.06 336.91 L260.44 337.44 L260.82 337.97 L261.20 338.51 L261.58 339.04 L261.96 339.58 L262.33 340.11 L262.70 340.65 L263.07 341.19 L263.44 341.73 L263.81 342.27 L264.18 342.81 L264.54 343.36 L264.90 343.90 L265.26 344.45 L265.62 344.99 L265.98 345.54 L266.34 346.09 L266.69 346.64 L267.04 347.19 L267.40 347.74 L267.74 348.30 L268.09 348.85 L268.44 349.41 L268.78 349.96 L269.13 350.52 L269.47 351.08 L269.81 351.64 L270.15 352.20 L270.48 352.76 L270.82 353.32 L271.15 353.88 L271.48 354.44 L271.81 355.01 L272.14 355.57 L272.47 356.14 L272.80 356.71 L273.12 357.28 L273.44 357.85 L273.76 358.42 L274.08 358.99 L274.40 359.56 L274.72 360.13 L275.03 360.70 L275.35 361.28 L275.66 361.85 L275.97 362.43 L276.28 363.01 L276.59 363.58 L276.89 364.16 L277.20 364.74 L277.50 365.32 L277.80 365.90 L278.10 366.48 L278.40 367.07 L278.70 367.65 L278.99 368.23 L279.29 368.82 L279.58 369.40 L279.87 369.99 L280.16 370.57 L280.45 371.16 L280.73 371.75 L281.02 372.34 L281.30 372.93 L281.58 373.52 L281.87 374.11 L282.14 374.70 L282.42 375.29 L282.70 375.89 L282.97 376.48 L283.25 377.07 L283.52 377.67 L283.79 378.26 L284.06 378.86 L284.33 379.46 L284.60 380.05 L284.86 380.65 L285.12 381.25 L285.39 381.85 L285.65 382.45 L285.91 383.05 L286.17 383.65 L286.42 384.25 L286.68 384.86 L286.93 385.46 L287.19 386.06 L287.44 386.67 L287.69 387.27 L287.94 387.88 L288.18 388.48 L288.43 389.09 L288.67 389.70 L288.92 390.30 L289.16 390.91 L289.40 391.52 L289.64 392.13 L289.88 392.74 L290.11 393.35 L290.35 393.96 L290.58 394.57 L290.81 395.18 L291.04 395.79 L291.27 396.40 L291.50 397.02 L291.73 397.63 L291.96 398.25 L292.18 398.86 L292.40 399.47 L292.63 400.09 L292.85 400.71 L293.07 401.32 L293.28 401.94 L293.50 402.56 L293.72 403.17 L293.93 403.79 L294.14 404.41 L294.35 405.03 L294.56 405.65 L294.77 406.27 L294.98 406.89 L295.19 407.51 L295.39 408.13 L295.60 408.75 L295.80 409.38 L296.00 410.00 L287.40 418.60 L287.20 417.98 L287.00 417.35 L286.79 416.73 L286.59 416.11 L286.38 415.49 L286.17 414.87 L285.96 414.25 L285.75 413.63 L285.54 413.01 L285.33 412.39 L285.12 411.77 L284.90 411.16 L284.68 410.54 L284.47 409.92 L284.25 409.31 L284.03 408.69 L283.80 408.07 L283.58 407.46 L283.36 406.85 L283.13 406.23 L282.90 405.62 L282.67 405.00 L282.44 404.39 L282.21 403.78 L281.98 403.17 L281.75 402.56 L281.51 401.95 L281.28 401.34 L281.04 400.73 L280.80 400.12 L280.56 399.51 L280.32 398.90 L280.07 398.30 L279.83 397.69 L279.58 397.08 L279.34 396.48 L279.09 395.87 L278.84 395.27 L278.59 394.66 L278.33 394.06 L278.08 393.46 L277.82 392.85 L277.57 392.25 L277.31 391.65 L277.05 391.05 L276.79 390.45 L276.52 389.85 L276.26 389.25 L276.00 388.65 L275.73 388.06 L275.46 387.46 L275.19 386.86 L274.92 386.27 L274.65 385.67 L274.37 385.08 L274.10 384.49 L273.82 383.89 L273.54 383.30 L273.27 382.71 L272.98 382.12 L272.70 381.53 L272.42 380.94 L272.13 380.35 L271.85 379.76 L271.56 379.17 L271.27 378.59 L270.98 378.00 L270.69 377.42 L270.39 376.83 L270.10 376.25 L269.80 375.67 L269.50 375.08 L269.20 374.50 L268.90 373.92 L268.60 373.34 L268.29 372.76 L267.99 372.18 L267.68 371.61 L267.37 371.03 L267.06 370.45 L266.75 369.88 L266.43 369.30 L266.12 368.73 L265.80 368.16 L265.48 367.59 L265.16 367.02 L264.84 366.45 L264.52 365.88 L264.20 365.31 L263.87 364.74 L263.54 364.17 L263.21 363.61 L262.88 363.04 L262.55 362.48 L262.22 361.92 L261.88 361.36 L261.55 360.80 L261.21 360.24 L260.87 359.68 L260.53 359.12 L260.18 358.56 L259.84 358.01 L259.49 357.45 L259.14 356.90 L258.80 356.34 L258.44 355.79 L258.09 355.24 L257.74 354.69 L257.38 354.14 L257.02 353.59 L256.66 353.05 L256.30 352.50 L255.94 351.96 L255.58 351.41 L255.21 350.87 L254.84 350.33 L254.47 349.79 L254.10 349.25 L253.73 348.71 L253.36 348.18 L252.98 347.64 L252.60 347.11 L252.22 346.57 L251.84 346.04 L251.46 345.51 L251.08 344.98 L250.69 344.45 L250.30 343.92 L249.91 343.40 L249.52 342.87 L249.13 342.35 L248.74 341.83 L248.34 341.31 L247.94 340.79 L247.54 340.27 L247.14 339.75 L246.74 339.24 L246.33 338.72 L245.93 338.21 L245.52 337.70 L245.11 337.19 L244.70 336.68 L244.28 336.17 L243.87 335.67 L243.45 335.16 L243.03 334.66 L242.61 334.16 L242.19 333.66 L241.77 333.16 L241.34 332.66 L240.92 332.17 L240.49 331.68 L240.06 331.18 L239.62 330.69 L239.19 330.20 L238.75 329.72 L238.31 329.23 L237.88 328.74 L237.43 328.26 L236.99 327.78 L236.55 327.30 L236.10 326.82 L235.65 326.35 L235.20 325.87 L234.75 325.40 L234.29 324.93 L233.84 324.46 L233.38 323.99 L232.92 323.52 L232.46 323.06 L232.00 322.60 L231.54 322.14 L231.07 321.68 L230.60 321.22 L230.13 320.76 L229.66 320.31 L229.19 319.86 L228.71 319.41 L228.23 318.96 L227.76 318.52 L227.28 318.07 L226.79 317.63 L226.31 317.19 L225.82 316.75 L225.34 316.31 L224.85 315.88 L224.36 315.45 L223.86 315.02 L223.37 314.59 L222.87 314.16 L222.38 313.74 L221.88 313.31 L221.37 312.89 L220.87 312.48 L220.37 312.06 L219.86 311.65 L219.35 311.23 L218.84 310.82 L218.33 310.42 L217.82 310.01 L217.30 309.61 L216.78 309.21 L216.27 308.81 L215.75 308.41 L215.22 308.02 L214.70 307.62 L214.17 307.23 L213.65 306.85 L213.12 306.46 L212.59 306.08 L212.06 305.70 L211.52 305.32 L210.99 304.94 L210.45 304.57 L209.91 304.20 L209.37 303.83 L208.83 303.46 L208.29 303.09 L207.75 302.73 L207.20 302.37 L206.65 302.01 L206.10 301.66 L205.55 301.30 L205.00 300.95 L204.45 300.60 L203.89 300.26 L203.34 299.91 L202.78 299.57 L202.22 299.23 L201.66 298.89 L201.10 298.56 L200.53 298.23 L199.97 297.90 L199.40 297.57 L198.83 297.25 L198.26 296.92 L197.69 296.60 L197.12 296.29 L196.55 295.97 L195.97 295.66 L195.39 295.35 L194.82 295.04 L194.24 294.74 L193.66 294.44 L193.08 294.14 L192.49 293.84 L191.91 293.55 L191.32 293.25 L190.74 292.97 L190.15 292.68 L189.56 292.40 L188.97 292.11 L188.38 291.84 L187.78 291.56 L187.19 291.29 L186.59 291.02 L186.00 290.75 L185.40 290.48 L184.80 290.22 L184.20 289.96 L183.60 289.70 L182.99 289.45 L182.39 289.20 L181.78 288.95 L181.18 288.70 L180.57 288.46 L179.96 288.22 L179.35 287.98 L178.74 287.75 L178.13 287.51 L177.52 287.28 L176.90 287.06 L176.29 286.83 L175.67 286.61 L175.06 286.40 L174.44 286.18 L173.82 285.97 L173.20 285.76 L172.58 285.55 L171.96 285.35 L171.33 285.15 L170.71 284.95 L170.09 284.76 L169.46 284.57 L168.83 284.38 L168.21 284.19 L167.58 284.01 L166.95 283.83 L166.32 283.66 L165.69 283.48 L165.06 283.31 L164.42 283.15 L163.79 282.98 L163.16 282.82 L162.52 282.66 L161.89 282.51 L161.25 282.36 L160.61 282.21 L159.97 282.06 L159.34 281.92 L158.70 281.78 L158.06 281.64 L157.42 281.51 L156.77 281.38 L156.13 281.25 L155.49 281.13 L154.85 281.00 L154.21 280.88 L153.56 280.77 L152.92 280.65 L152.27 280.54 L151.63 280.43 L150.98 280.32 L150.34 280.22 L149.69 280.12 L149.04 280.02 L148.40 279.92 L147.75 279.82 L147.10 279.73 L146.45 279.64 L145.81 279.55 L145.16 279.46 L144.51 279.38 L143.86 279.30 L143.21 279.21 L142.56 279.14 L141.91 279.06 L141.26 278.98 L140.61 278.91 L139.96 278.84 L139.31 278.77 L138.66 278.70 L138.01 278.64 L137.36 278.57 L136.71 278.51 L136.06 278.45 L135.40 278.39 L134.75 278.33 L134.10 278.27 L133.45 278.22 L132.80 278.16 L132.14 278.11 L131.49 278.06 L130.84 278.01 L130.19 277.96 L129.54 277.91 L128.88 277.86 L128.23 277.82 L127.58 277.77 L126.92 277.73 L126.27 277.68 L125.62 277.64 L124.97 277.60 L124.31 277.56 L123.66 277.52 L123.01 277.48 L122.35 277.45 L121.70 277.41 L121.05 277.37 L120.39 277.34 L119.74 277.30 L119.09 277.27 L118.43 277.24 L117.78 277.20 L117.13 277.17 L116.47 277.14 L115.82 277.11 L115.17 277.08 L114.51 277.05 L113.86 277.02 L113.21 277.00 L112.55 276.97 L111.90 276.94 L111.24 276.91 L110.59 276.89 L109.94 276.86 L109.28 276.83 L108.63 276.81 L107.98 276.78 L107.32 276.76 L106.67 276.73 L106.01 276.71 L105.36 276.69 L104.71 276.66 L104.05 276.64 L103.40 276.61 L102.75 276.59 L102.09 276.57 L101.44 276.54 L100.78 276.52 L100.13 276.49 L99.48 276.47 L98.82 276.45 L98.17 276.42 L97.52 276.40 L96.86 276.37 L96.21 276.35 L95.55 276.32 L94.90 276.30 Z" fill="#fff"/>
<polygon points="285.00,410.40 495.70,110.50 495.70,410.40" fill="#00ffff"/>
<polygon points="405.00,410.40 495.70,258.75 495.70,410.40" fill="#00acac"/>
<path d="M108.73 74.97 l-11.30 11.30 M115.01 74.94 l-11.30 11.30 M121.27 74.93 l-11.30 11.30 M127.53 74.92 l-11.30 11.30 M133.79 74.91 l-11.30 11.30 M140.03 74.92 l-11.30 11.30 M146.27 74.93 l-11.30 11.30 M152.50 74.95 l-11.30 11.30 M158.72 74.98 l-11.30 11.30 M164.94 75.01 l-11.30 11.30 M171.15 75.05 l-11.30 11.30 M177.36 75.09 l-11.30 11.30 M183.56 75.14 l-11.30 11.30 M189.76 75.19 l-11.30 11.30 M195.95 75.25 l-11.30 11.30 M202.14 75.31 l-11.30 11.30 M208.32 75.38 l-11.30 11.30 M214.51 75.44 l-11.30 11.30 M220.69 75.51 l-11.30 11.30 M226.87 75.58 l-11.30 11.30 M233.04 75.66 l-11.30 11.30 M239.22 75.73 l-11.30 11.30 M245.39 75.81 l-11.30 11.30 M251.56 75.89 l-11.30 11.30 M257.74 75.96 l-11.30 11.30 M263.91 76.04 l-11.30 11.30 M270.08 76.12 l-11.30 11.30 M276.25 76.20 l-11.30 11.30 M282.43 76.27 l-11.30 11.30 M288.60 76.35 l-11.30 11.30 M294.78 76.42 l-11.30 11.30 M300.96 76.49 l-11.30 11.30 M307.14 76.56 l-11.30 11.30 M313.33 76.62 l-11.30 11.30 M319.51 76.69 l-11.30 11.30 M325.70 76.75 l-11.30 11.30 M331.87 76.83 l-11.30 11.30 M338.04 76.91 l-11.30 11.30 M344.19 77.01 l-11.30 11.30 M350.32 77.13 l-11.30 11.30 M356.44 77.26 l-11.30 11.30 M362.53 77.42 l-11.30 11.30 M368.59 77.61 l-11.30 11.30 M374.62 77.83 l-11.30 11.30 M380.62 78.08 l-11.30 11.30 M386.59 78.36 l-11.30 11.30 M392.51 78.69 l-11.30 11.30 M398.39 79.06 l-11.30 11.30 M404.24 79.46 l-11.30 11.30 M410.03 79.92 l-11.30 11.30 M415.78 80.42 l-11.30 11.30 M421.47 80.98 l-11.30 11.30 M427.11 81.59 l-11.30 11.30 M432.69 82.26 l-11.30 11.30 M438.20 83.00 l-11.30 11.30 M443.64 83.81 l-11.30 11.30 M449.01 84.69 l-11.30 11.30 M454.30 85.65 l-11.30 11.30 M459.52 86.68 l-11.30 11.30 M464.65 87.80 l-11.30 11.30 M469.71 88.99 l-11.30 11.30 M474.68 90.27 l-11.30 11.30 M479.56 91.64 l-11.30 11.30 M484.37 93.08 l-11.30 11.30 M489.08 94.62 l-11.30 11.30 M493.72 96.23 l-11.30 11.30 M498.26 97.94 l-11.30 11.30 M502.72 99.73 l-11.30 11.30 M507.10 101.60 l-11.30 11.30 M511.47 103.48 l-11.30 11.30 M515.85 105.35 l-11.30 11.30 M520.23 107.22 l-11.30 11.30" stroke="#ff2828" stroke-width="0.75" fill="none"/>
<path d="M104.62 258.63 l-8.00 8.00 M110.70 258.80 l-8.00 8.00 M116.75 259.00 l-8.00 8.00 M122.76 259.24 l-8.00 8.00 M128.75 259.50 l-8.00 8.00 M134.70 259.80 l-8.00 8.00 M140.60 260.15 l-8.00 8.00 M146.47 260.53 l-8.00 8.00 M152.29 260.96 l-8.00 8.00 M158.07 261.43 l-8.00 8.00 M163.80 261.95 l-8.00 8.00 M169.47 262.53 l-8.00 8.00 M175.10 263.15 l-8.00 8.00 M180.67 263.83 l-8.00 8.00 M186.19 264.56 l-8.00 8.00 M191.65 265.35 l-8.00 8.00 M197.06 266.19 l-8.00 8.00 M202.43 267.07 l-8.00 8.00 M207.76 267.99 l-8.00 8.00 M213.06 268.94 l-8.00 8.00 M218.35 269.90 l-8.00 8.00 M223.62 270.88 l-8.00 8.00 M228.89 271.86 l-8.00 8.00 M234.16 272.84 l-8.00 8.00 M239.45 273.80 l-8.00 8.00 M244.75 274.75 l-8.00 8.00 M250.07 275.68 l-8.00 8.00 M255.43 276.57 l-8.00 8.00 M260.82 277.43 l-8.00 8.00 M266.27 278.23 l-8.00 8.00 M271.78 278.97 l-8.00 8.00 M277.34 279.66 l-8.00 8.00 M282.95 280.30 l-8.00 8.00 M288.56 280.94 l-8.00 8.00 M294.16 281.59 l-8.00 8.00 M299.71 282.29 l-8.00 8.00 M305.21 283.04 l-8.00 8.00 M310.62 283.88 l-8.00 8.00 M315.93 284.82 l-8.00 8.00 M321.11 285.89 l-8.00 8.00 M326.15 287.10 l-8.00 8.00 M331.02 288.48 l-8.00 8.00 M335.71 290.04 l-8.00 8.00 M340.20 291.80 l-8.00 8.00 M344.46 293.79 l-8.00 8.00 M348.50 296.00 l-8.00 8.00 M352.30 298.45 l-8.00 8.00 M355.87 301.13 l-8.00 8.00 M359.23 304.02 l-8.00 8.00 M362.41 307.09 l-8.00 8.00 M365.43 310.32 l-8.00 8.00 M368.30 313.70 l-8.00 8.00 M371.04 317.21 l-8.00 8.00 M373.66 320.84 l-8.00 8.00 M376.19 324.56 l-8.00 8.00 M378.62 328.38 l-8.00 8.00 M380.98 332.27 l-8.00 8.00 M383.27 336.23 l-8.00 8.00 M385.52 340.23 l-8.00 8.00 M387.72 344.28 l-8.00 8.00 M389.90 348.35 l-8.00 8.00 M392.07 352.43 l-8.00 8.00 M394.24 356.51 l-8.00 8.00 M396.44 360.56 l-8.00 8.00 M398.65 364.60 l-8.00 8.00 M400.85 368.65 l-8.00 8.00 M403.05 372.70 l-8.00 8.00" stroke="#3030ff" stroke-width="0.90" fill="none" clip-path="url(#blueclip)"/>
<path d="M103.69 267.71 l-8.60 8.60 M109.72 267.93 l-8.60 8.60 M115.75 268.15 l-8.60 8.60 M121.76 268.39 l-8.60 8.60 M127.73 268.67 l-8.60 8.60 M133.64 269.01 l-8.60 8.60 M139.49 269.41 l-8.60 8.60 M145.25 269.90 l-8.60 8.60 M150.90 270.50 l-8.60 8.60 M156.42 271.23 l-8.60 8.60 M161.80 272.10 l-8.60 8.60 M167.03 273.12 l-8.60 8.60 M172.09 274.31 l-8.60 8.60 M177.00 275.65 l-8.60 8.60 M181.75 277.15 l-8.60 8.60 M186.37 278.78 l-8.60 8.60 M190.86 280.54 l-8.60 8.60 M195.22 282.43 l-8.60 8.60 M199.47 284.43 l-8.60 8.60 M203.61 286.54 l-8.60 8.60 M207.64 288.76 l-8.60 8.60 M211.57 291.08 l-8.60 8.60 M215.40 293.50 l-8.60 8.60 M219.13 296.02 l-8.60 8.60 M222.77 298.63 l-8.60 8.60 M226.32 301.33 l-8.60 8.60 M229.77 304.13 l-8.60 8.60 M233.14 307.01 l-8.60 8.60 M236.42 309.98 l-8.60 8.60 M239.62 313.03 l-8.60 8.60 M242.74 316.16 l-8.60 8.60 M245.77 319.38 l-8.60 8.60 M248.73 322.67 l-8.60 8.60 M251.61 326.04 l-8.60 8.60 M254.42 329.48 l-8.60 8.60 M257.16 332.99 l-8.60 8.60 M259.82 336.58 l-8.60 8.60 M262.42 340.23 l-8.60 8.60 M264.94 343.96 l-8.60 8.60 M267.40 347.75 l-8.60 8.60 M269.79 351.61 l-8.60 8.60 M272.12 355.53 l-8.60 8.60 M274.38 359.52 l-8.60 8.60 M276.58 363.57 l-8.60 8.60 M278.71 367.69 l-8.60 8.60 M280.79 371.86 l-8.60 8.60 M282.80 376.10 l-8.60 8.60 M284.75 380.40 l-8.60 8.60 M286.64 384.76 l-8.60 8.60 M288.47 389.18 l-8.60 8.60 M290.23 393.67 l-8.60 8.60 M291.94 398.21 l-8.60 8.60 M293.59 402.81 l-8.60 8.60 M295.18 407.47 l-8.60 8.60 M296.72 412.18 l-8.60 8.60 M298.27 416.88 l-8.60 8.60 M299.82 421.58 l-8.60 8.60" stroke="#ff30ff" stroke-width="0.90" fill="none"/>
<path d="M103.50 76.40 L104.67 76.38 L105.85 76.35 L107.02 76.33 L108.19 76.30 L109.36 76.28 L110.54 76.25 L111.71 76.22 L112.88 76.20 L114.06 76.17 L115.23 76.14 L116.40 76.12 L117.57 76.09 L118.75 76.06 L119.92 76.03 L121.09 76.00 L122.26 75.97 L123.44 75.94 L124.61 75.92 L125.78 75.89 L126.96 75.86 L128.13 75.83 L129.30 75.80 L130.47 75.77 L131.65 75.74 L132.82 75.71 L133.99 75.68 L135.16 75.65 L136.34 75.62 L137.51 75.59 L138.68 75.56 L139.86 75.53 L141.03 75.50 L142.20 75.47 L143.37 75.44 L144.55 75.41 L145.72 75.38 L146.89 75.35 L148.06 75.32 L149.24 75.29 L150.41 75.26 L151.58 75.23 L152.76 75.20 L153.93 75.17 L155.10 75.15 L156.27 75.12 L157.45 75.09 L158.62 75.06 L159.79 75.04 L160.97 75.01 L162.14 74.98 L163.31 74.96 L164.48 74.93 L165.66 74.91 L166.83 74.88 L168.00 74.86 L169.17 74.83 L170.35 74.81 L171.52 74.78 L172.69 74.76 L173.87 74.74 L175.04 74.72 L176.21 74.70 L177.39 74.67 L178.56 74.65 L179.73 74.63 L180.90 74.62 L182.08 74.60 L183.25 74.58 L184.42 74.56 L185.60 74.55 L186.77 74.53 L187.94 74.51 L189.11 74.50 L190.29 74.49 L191.46 74.47 L192.63 74.46 L193.81 74.45 L194.98 74.44 L196.15 74.43 L197.33 74.42 L198.50 74.41 L199.67 74.40 L200.85 74.39 L202.02 74.39 L203.19 74.38 L204.36 74.38 L205.54 74.37 L206.71 74.37 L207.88 74.37 L209.06 74.37 L210.23 74.37 L211.40 74.37 L212.58 74.37 L213.75 74.38 L214.92 74.38 L216.10 74.39 L217.27 74.39 L218.44 74.40 L219.61 74.41 L220.79 74.42 L221.96 74.43 L223.13 74.44 L224.31 74.46 L225.48 74.47 L226.65 74.49 L227.83 74.50 L229.00 74.52 L230.17 74.54 L231.34 74.56 L232.52 74.58 L233.69 74.61 L234.86 74.63 L236.04 74.66 L237.21 74.69 L238.38 74.72 L239.55 74.75 L240.73 74.78 L241.90 74.81 L243.07 74.85 L244.24 74.89 L245.42 74.92 L246.59 74.96 L247.76 75.01 L248.93 75.05 L250.11 75.10 L251.28 75.14 L252.45 75.19 L253.62 75.25 L254.79 75.30 L255.97 75.35 L257.14 75.41 L258.31 75.47 L259.48 75.53 L260.65 75.60 L261.82 75.66 L262.99 75.73 L264.17 75.80 L265.34 75.87 L266.51 75.94 L267.68 76.02 L268.85 76.10 L270.02 76.18 L271.19 76.26 L272.36 76.35 L273.53 76.44 L274.70 76.53 L275.87 76.62 L277.04 76.72 L278.21 76.81 L279.37 76.91 L280.54 77.02 L281.71 77.12 L282.88 77.23 L284.05 77.34 L285.22 77.45 L286.38 77.57 L287.55 77.69 L288.72 77.81 L289.88 77.94 L291.05 78.06 L292.21 78.19 L293.38 78.33 L294.55 78.46 L295.71 78.60 L296.87 78.74 L298.04 78.89 L299.20 79.04 L300.37 79.19 L301.53 79.34 L302.69 79.50 L303.85 79.66 L305.01 79.82 L306.18 79.99 L307.34 80.16 L308.50 80.33 L309.66 80.51 L310.82 80.69 L311.97 80.87 L313.13 81.06 L314.29 81.25 L315.45 81.45 L316.60 81.64 L317.76 81.84 L318.91 82.05 L320.07 82.25 L321.22 82.47 L322.38 82.68 L323.53 82.90 L324.68 83.12 L325.83 83.35 L326.98 83.58 L328.13 83.81 L329.28 84.05 L330.43 84.29 L331.58 84.53 L332.72 84.78 L333.87 85.03 L335.01 85.29 L336.16 85.55 L337.30 85.81 L338.44 86.08 L339.58 86.35 L340.72 86.62 L341.86 86.90 L343.00 87.19 L344.14 87.48 L345.28 87.77 L346.41 88.06 L347.54 88.37 L348.68 88.67 L349.81 88.98 L350.94 89.30 L352.07 89.62 L353.19 89.94 L354.32 90.27 L355.44 90.61 L356.57 90.95 L357.69 91.30 L358.81 91.65 L359.92 92.01 L361.04 92.37 L362.15 92.74 L363.26 93.11 L364.37 93.49 L365.48 93.88 L366.59 94.27 L367.69 94.67 L368.79 95.07 L369.89 95.48 L370.99 95.90 L372.08 96.32 L373.17 96.75 L374.26 97.19 L375.35 97.63 L376.43 98.08 L377.51 98.54 L378.59 99.01 L379.66 99.48 L380.73 99.96 L381.80 100.44 L382.87 100.94 L383.93 101.44 L384.98 101.95 L386.04 102.46 L387.09 102.99 L388.13 103.52 L389.17 104.06 L390.21 104.60 L391.25 105.16 L392.27 105.72 L393.30 106.29 L394.32 106.87 L395.33 107.46 L396.34 108.05 L397.35 108.66 L398.35 109.27 L399.35 109.89 L400.34 110.52 L401.33 111.15 L402.31 111.80 L403.28 112.45 L404.25 113.10 L405.22 113.77 L406.18 114.44 L407.13 115.13 L408.08 115.81 L409.03 116.51 L409.97 117.21 L410.90 117.93 L411.83 118.64 L412.75 119.37 L413.66 120.10 L414.58 120.84 L415.48 121.59 L416.38 122.34 L417.27 123.11 L418.16 123.87 L419.04 124.65 L419.91 125.43 L420.78 126.22 L421.64 127.02 L422.49 127.82 L423.34 128.63 L424.19 129.45 L425.02 130.27 L425.85 131.10 L426.67 131.94 L427.49 132.78 L428.30 133.63 L429.10 134.49 L429.90 135.35 L430.68 136.22 L431.47 137.09 L432.24 137.97 L433.01 138.86 L433.77 139.75 L434.52 140.65 L435.26 141.56 L436.00 142.47 L436.73 143.39 L437.46 144.31 L438.17 145.24 L438.88 146.18 L439.58 147.12 L440.27 148.07 L440.96 149.02 L441.64 149.97 L442.31 150.93 L442.98 151.90 L443.64 152.87 L444.29 153.85 L444.93 154.83 L445.57 155.81 L446.20 156.80 L446.83 157.79 L447.45 158.79 L448.06 159.79 L448.67 160.79 L449.27 161.80 L449.87 162.81 L450.46 163.82 L451.04 164.84 L451.62 165.86 L452.20 166.88 L452.77 167.91 L453.33 168.94 L453.89 169.97 L454.44 171.00 L454.99 172.04 L455.54 173.08 L456.08 174.12 L456.61 175.16 L457.15 176.21 L457.67 177.25 L458.20 178.30 L458.72 179.36 L459.23 180.41 L459.75 181.46 L460.25 182.52 L460.76 183.58 L461.26 184.64 L461.76 185.70 L462.26 186.76 L462.75 187.83 L463.24 188.89 L463.73 189.96 L464.21 191.03 L464.70 192.10 L465.18 193.17 L465.66 194.24 L466.13 195.31 L466.61 196.39 L467.08 197.46 L467.55 198.53 L468.02 199.61 L468.48 200.69 L468.95 201.76 L469.41 202.84 L469.88 203.92 L470.34 205.00 L470.80 206.08 L471.25 207.16 L471.71 208.24 L472.17 209.32 L472.62 210.40 L473.08 211.48 L473.53 212.56 L473.98 213.64 L474.43 214.73 L474.88 215.81 L475.33 216.89 L475.78 217.98 L476.23 219.06 L476.68 220.15 L477.13 221.23 L477.58 222.31 L478.03 223.40 L478.47 224.48 L478.92 225.57 L479.37 226.65 L479.82 227.73 L480.27 228.82 L480.72 229.90 L481.16 230.99 L481.61 232.07 L482.06 233.15 L482.51 234.24 L482.97 235.32 L483.42 236.40 L483.87 237.48 L484.33 238.56 L484.78 239.65 L485.24 240.73 L485.69 241.81 L486.15 242.89 L486.61 243.97 L487.07 245.04 L487.54 246.12 L488.00 247.20" fill="none" stroke="#00f000" stroke-width="1.9" stroke-linejoin="round"/>
<path d="M103.50 57.50 L104.61 57.46 L105.73 57.42 L106.84 57.38 L107.95 57.34 L109.07 57.30 L110.18 57.26 L111.30 57.21 L112.41 57.17 L113.52 57.13 L114.64 57.09 L115.75 57.05 L116.86 57.01 L117.98 56.97 L119.09 56.93 L120.21 56.89 L121.32 56.85 L122.43 56.80 L123.55 56.76 L124.66 56.72 L125.77 56.68 L126.89 56.64 L128.00 56.60 L129.11 56.56 L130.23 56.52 L131.34 56.48 L132.46 56.44 L133.57 56.40 L134.68 56.36 L135.80 56.32 L136.91 56.28 L138.02 56.25 L139.14 56.21 L140.25 56.17 L141.37 56.13 L142.48 56.09 L143.59 56.06 L144.71 56.02 L145.82 55.98 L146.94 55.94 L148.05 55.91 L149.16 55.87 L150.28 55.84 L151.39 55.80 L152.50 55.77 L153.62 55.73 L154.73 55.70 L155.85 55.66 L156.96 55.63 L158.07 55.60 L159.19 55.56 L160.30 55.53 L161.42 55.50 L162.53 55.47 L163.64 55.44 L164.76 55.41 L165.87 55.38 L166.99 55.35 L168.10 55.32 L169.21 55.29 L170.33 55.26 L171.44 55.24 L172.56 55.21 L173.67 55.18 L174.79 55.16 L175.90 55.13 L177.01 55.11 L178.13 55.08 L179.24 55.06 L180.36 55.04 L181.47 55.02 L182.58 54.99 L183.70 54.97 L184.81 54.95 L185.93 54.93 L187.04 54.91 L188.16 54.90 L189.27 54.88 L190.39 54.86 L191.50 54.85 L192.61 54.83 L193.73 54.82 L194.84 54.80 L195.96 54.79 L197.07 54.78 L198.19 54.77 L199.30 54.76 L200.41 54.75 L201.53 54.74 L202.64 54.73 L203.76 54.72 L204.87 54.72 L205.99 54.71 L207.10 54.71 L208.22 54.70 L209.33 54.70 L210.44 54.70 L211.56 54.70 L212.67 54.70 L213.79 54.70 L214.90 54.70 L216.02 54.70 L217.13 54.71 L218.25 54.71 L219.36 54.72 L220.47 54.73 L221.59 54.73 L222.70 54.74 L223.82 54.75 L224.93 54.76 L226.05 54.78 L227.16 54.79 L228.28 54.80 L229.39 54.82 L230.50 54.83 L231.62 54.85 L232.73 54.87 L233.85 54.89 L234.96 54.91 L236.08 54.93 L237.19 54.96 L238.30 54.98 L239.42 55.01 L240.53 55.03 L241.65 55.06 L242.76 55.09 L243.87 55.12 L244.99 55.15 L246.10 55.19 L247.22 55.22 L248.33 55.26 L249.44 55.29 L250.56 55.33 L251.67 55.37 L252.79 55.41 L253.90 55.46 L255.01 55.50 L256.13 55.54 L257.24 55.59 L258.35 55.64 L259.47 55.69 L260.58 55.74 L261.69 55.79 L262.81 55.84 L263.92 55.90 L265.03 55.95 L266.15 56.01 L267.26 56.07 L268.37 56.13 L269.48 56.19 L270.60 56.26 L271.71 56.32 L272.82 56.39 L273.93 56.45 L275.05 56.52 L276.16 56.60 L277.27 56.67 L278.38 56.74 L279.49 56.82 L280.61 56.89 L281.72 56.97 L282.83 57.05 L283.94 57.14 L285.05 57.22 L286.16 57.31 L287.27 57.39 L288.38 57.48 L289.50 57.57 L290.61 57.66 L291.72 57.76 L292.83 57.85 L293.94 57.95 L295.05 58.05 L296.16 58.15 L297.27 58.25 L298.38 58.35 L299.49 58.46 L300.60 58.57 L301.70 58.68 L302.81 58.79 L303.92 58.90 L305.03 59.02 L306.14 59.13 L307.25 59.25 L308.36 59.37 L309.46 59.49 L310.57 59.62 L311.68 59.74 L312.79 59.87 L313.89 60.00 L315.00 60.13 L316.11 60.26 L317.21 60.40 L318.32 60.53 L319.42 60.67 L320.53 60.81 L321.63 60.96 L322.74 61.10 L323.84 61.25 L324.95 61.40 L326.05 61.55 L327.16 61.70 L328.26 61.85 L329.36 62.01 L330.47 62.17 L331.57 62.33 L332.67 62.49 L333.77 62.66 L334.88 62.82 L335.98 62.99 L337.08 63.16 L338.18 63.34 L339.28 63.51 L340.38 63.69 L341.48 63.88 L342.58 64.06 L343.68 64.25 L344.78 64.44 L345.87 64.63 L346.97 64.83 L348.07 65.02 L349.16 65.23 L350.26 65.43 L351.35 65.64 L352.45 65.85 L353.54 66.06 L354.63 66.28 L355.73 66.50 L356.82 66.72 L357.91 66.95 L359.00 67.18 L360.09 67.42 L361.18 67.65 L362.27 67.90 L363.35 68.14 L364.44 68.39 L365.53 68.64 L366.61 68.90 L367.69 69.16 L368.78 69.42 L369.86 69.69 L370.94 69.96 L372.02 70.24 L373.10 70.52 L374.17 70.81 L375.25 71.10 L376.32 71.39 L377.40 71.69 L378.47 71.99 L379.54 72.30 L380.61 72.61 L381.68 72.93 L382.75 73.25 L383.81 73.58 L384.88 73.91 L385.94 74.24 L387.00 74.58 L388.06 74.93 L389.12 75.28 L390.17 75.64 L391.23 76.00 L392.28 76.36 L393.33 76.74 L394.38 77.11 L395.43 77.50 L396.47 77.88 L397.52 78.28 L398.56 78.68 L399.59 79.08 L400.63 79.49 L401.66 79.91 L402.70 80.33 L403.72 80.76 L404.75 81.19 L405.78 81.63 L406.80 82.07 L407.82 82.52 L408.83 82.98 L409.85 83.45 L410.86 83.91 L411.87 84.39 L412.87 84.87 L413.87 85.36 L414.87 85.85 L415.87 86.36 L416.86 86.86 L417.85 87.38 L418.83 87.90 L419.82 88.42 L420.79 88.96 L421.77 89.49 L422.74 90.04 L423.71 90.59 L424.67 91.15 L425.63 91.72 L426.59 92.29 L427.54 92.87 L428.49 93.45 L429.43 94.05 L430.37 94.65 L431.31 95.25 L432.24 95.86 L433.17 96.48 L434.09 97.11 L435.01 97.74 L435.92 98.38 L436.83 99.03 L437.73 99.68 L438.63 100.34 L439.53 101.00 L440.41 101.67 L441.30 102.35 L442.18 103.04 L443.05 103.73 L443.92 104.42 L444.79 105.13 L445.65 105.84 L446.50 106.55 L447.35 107.28 L448.19 108.01 L449.03 108.74 L449.86 109.48 L450.69 110.23 L451.51 110.98 L452.32 111.74 L453.13 112.51 L453.94 113.28 L454.73 114.06 L455.52 114.85 L456.31 115.64 L457.09 116.43 L457.86 117.24 L458.63 118.04 L459.39 118.86 L460.14 119.68 L460.89 120.51 L461.63 121.34 L462.36 122.18 L463.09 123.02 L463.81 123.87 L464.52 124.73 L465.23 125.59 L465.93 126.46 L466.62 127.34 L467.30 128.21 L467.98 129.10 L468.65 129.99 L469.31 130.89 L469.97 131.79 L470.61 132.70 L471.25 133.61 L471.88 134.53 L472.50 135.46 L473.12 136.39 L473.72 137.32 L474.32 138.26 L474.91 139.21 L475.50 140.16 L476.07 141.11 L476.64 142.07 L477.21 143.03 L477.76 143.99 L478.31 144.96 L478.86 145.94 L479.39 146.91 L479.92 147.89 L480.45 148.88 L480.96 149.86 L481.48 150.85 L481.98 151.85 L482.48 152.84 L482.98 153.84 L483.47 154.84 L483.95 155.84 L484.44 156.85 L484.91 157.86 L485.38 158.87 L485.85 159.88 L486.31 160.89 L486.77 161.91 L487.22 162.93 L487.67 163.95 L488.12 164.97 L488.56 165.99 L489.00 167.02 L489.44 168.04 L489.87 169.07 L490.30 170.10 L490.73 171.13 L491.15 172.16 L491.58 173.19 L492.00 174.22 L492.42 175.25 L492.83 176.29 L493.25 177.32 L493.66 178.35 L494.07 179.39 L494.48 180.43 L494.89 181.46 L495.30 182.50" fill="none" stroke="#008c00" stroke-width="1.9" stroke-linejoin="round"/>
<path d="M103.50 75.00 L104.52 74.99 L105.54 74.99 L106.56 74.98 L107.59 74.98 L108.61 74.97 L109.63 74.97 L110.65 74.96 L111.67 74.96 L112.69 74.95 L113.71 74.95 L114.74 74.95 L115.76 74.94 L116.78 74.94 L117.80 74.93 L118.82 74.93 L119.84 74.93 L120.86 74.93 L121.88 74.92 L122.91 74.92 L123.93 74.92 L124.95 74.92 L125.97 74.92 L126.99 74.92 L128.01 74.92 L129.03 74.91 L130.06 74.91 L131.08 74.91 L132.10 74.91 L133.12 74.91 L134.14 74.91 L135.16 74.91 L136.18 74.92 L137.21 74.92 L138.23 74.92 L139.25 74.92 L140.27 74.92 L141.29 74.92 L142.31 74.92 L143.33 74.93 L144.36 74.93 L145.38 74.93 L146.40 74.93 L147.42 74.94 L148.44 74.94 L149.46 74.94 L150.48 74.95 L151.51 74.95 L152.53 74.95 L153.55 74.96 L154.57 74.96 L155.59 74.97 L156.61 74.97 L157.63 74.97 L158.66 74.98 L159.68 74.98 L160.70 74.99 L161.72 74.99 L162.74 75.00 L163.76 75.01 L164.78 75.01 L165.81 75.02 L166.83 75.02 L167.85 75.03 L168.87 75.04 L169.89 75.04 L170.91 75.05 L171.93 75.05 L172.96 75.06 L173.98 75.07 L175.00 75.08 L176.02 75.08 L177.04 75.09 L178.06 75.10 L179.08 75.11 L180.10 75.11 L181.13 75.12 L182.15 75.13 L183.17 75.14 L184.19 75.15 L185.21 75.15 L186.23 75.16 L187.25 75.17 L188.28 75.18 L189.30 75.19 L190.32 75.20 L191.34 75.21 L192.36 75.22 L193.38 75.23 L194.40 75.24 L195.43 75.25 L196.45 75.26 L197.47 75.27 L198.49 75.28 L199.51 75.29 L200.53 75.30 L201.55 75.31 L202.57 75.32 L203.60 75.33 L204.62 75.34 L205.64 75.35 L206.66 75.36 L207.68 75.37 L208.70 75.38 L209.72 75.39 L210.75 75.40 L211.77 75.41 L212.79 75.42 L213.81 75.43 L214.83 75.45 L215.85 75.46 L216.87 75.47 L217.90 75.48 L218.92 75.49 L219.94 75.50 L220.96 75.52 L221.98 75.53 L223.00 75.54 L224.02 75.55 L225.04 75.56 L226.07 75.57 L227.09 75.59 L228.11 75.60 L229.13 75.61 L230.15 75.62 L231.17 75.64 L232.19 75.65 L233.22 75.66 L234.24 75.67 L235.26 75.68 L236.28 75.70 L237.30 75.71 L238.32 75.72 L239.34 75.73 L240.36 75.75 L241.39 75.76 L242.41 75.77 L243.43 75.79 L244.45 75.80 L245.47 75.81 L246.49 75.82 L247.51 75.84 L248.54 75.85 L249.56 75.86 L250.58 75.87 L251.60 75.89 L252.62 75.90 L253.64 75.91 L254.66 75.93 L255.68 75.94 L256.71 75.95 L257.73 75.96 L258.75 75.98 L259.77 75.99 L260.79 76.00 L261.81 76.02 L262.83 76.03 L263.86 76.04 L264.88 76.05 L265.90 76.07 L266.92 76.08 L267.94 76.09 L268.96 76.11 L269.98 76.12 L271.00 76.13 L272.03 76.14 L273.05 76.16 L274.07 76.17 L275.09 76.18 L276.11 76.19 L277.13 76.21 L278.15 76.22 L279.18 76.23 L280.20 76.24 L281.22 76.26 L282.24 76.27 L283.26 76.28 L284.28 76.29 L285.30 76.31 L286.32 76.32 L287.35 76.33 L288.37 76.34 L289.39 76.36 L290.41 76.37 L291.43 76.38 L292.45 76.39 L293.47 76.40 L294.50 76.42 L295.52 76.43 L296.54 76.44 L297.56 76.45 L298.58 76.46 L299.60 76.47 L300.62 76.49 L301.64 76.50 L302.67 76.51 L303.69 76.52 L304.71 76.53 L305.73 76.54 L306.75 76.55 L307.77 76.56 L308.79 76.58 L309.82 76.59 L310.84 76.60 L311.86 76.61 L312.88 76.62 L313.90 76.63 L314.92 76.64 L315.94 76.65 L316.96 76.66 L317.99 76.67 L319.01 76.68 L320.03 76.69 L321.05 76.70 L322.07 76.71 L323.09 76.73 L324.11 76.74 L325.14 76.75 L326.16 76.76 L327.18 76.77 L328.20 76.78 L329.22 76.80 L330.24 76.81 L331.26 76.82 L332.28 76.83 L333.31 76.85 L334.33 76.86 L335.35 76.87 L336.37 76.89 L337.39 76.90 L338.41 76.92 L339.43 76.93 L340.46 76.95 L341.48 76.97 L342.50 76.98 L343.52 77.00 L344.54 77.02 L345.56 77.04 L346.58 77.05 L347.60 77.07 L348.63 77.09 L349.65 77.11 L350.67 77.13 L351.69 77.15 L352.71 77.18 L353.73 77.20 L354.75 77.22 L355.77 77.25 L356.79 77.27 L357.82 77.30 L358.84 77.32 L359.86 77.35 L360.88 77.38 L361.90 77.40 L362.92 77.43 L363.94 77.46 L364.96 77.49 L365.98 77.53 L367.00 77.56 L368.03 77.59 L369.05 77.63 L370.07 77.66 L371.09 77.70 L372.11 77.73 L373.13 77.77 L374.15 77.81 L375.17 77.85 L376.19 77.89 L377.21 77.93 L378.23 77.97 L379.25 78.02 L380.27 78.06 L381.29 78.11 L382.31 78.16 L383.33 78.20 L384.35 78.25 L385.37 78.30 L386.39 78.35 L387.41 78.41 L388.43 78.46 L389.45 78.52 L390.47 78.57 L391.49 78.63 L392.51 78.69 L393.53 78.75 L394.55 78.81 L395.57 78.87 L396.59 78.94 L397.61 79.00 L398.63 79.07 L399.65 79.14 L400.67 79.21 L401.69 79.28 L402.71 79.35 L403.73 79.43 L404.74 79.50 L405.76 79.58 L406.78 79.66 L407.80 79.74 L408.82 79.82 L409.84 79.90 L410.85 79.99 L411.87 80.07 L412.89 80.16 L413.91 80.25 L414.92 80.34 L415.94 80.44 L416.96 80.53 L417.97 80.63 L418.99 80.73 L420.01 80.83 L421.02 80.93 L422.04 81.03 L423.06 81.14 L424.07 81.25 L425.09 81.36 L426.10 81.47 L427.12 81.59 L428.13 81.71 L429.15 81.83 L430.16 81.95 L431.17 82.07 L432.19 82.20 L433.20 82.33 L434.21 82.46 L435.23 82.59 L436.24 82.73 L437.25 82.87 L438.26 83.01 L439.27 83.15 L440.28 83.30 L441.29 83.45 L442.30 83.60 L443.31 83.76 L444.32 83.92 L445.33 84.08 L446.34 84.24 L447.35 84.41 L448.35 84.58 L449.36 84.75 L450.37 84.93 L451.37 85.11 L452.38 85.29 L453.38 85.48 L454.39 85.66 L455.39 85.86 L456.39 86.05 L457.39 86.25 L458.39 86.45 L459.39 86.66 L460.39 86.87 L461.39 87.08 L462.39 87.29 L463.39 87.51 L464.39 87.74 L465.38 87.96 L466.38 88.19 L467.37 88.43 L468.37 88.67 L469.36 88.91 L470.35 89.15 L471.34 89.40 L472.33 89.66 L473.32 89.91 L474.31 90.17 L475.29 90.44 L476.28 90.71 L477.26 90.98 L478.24 91.26 L479.23 91.54 L480.21 91.82 L481.19 92.11 L482.17 92.41 L483.14 92.70 L484.12 93.01 L485.09 93.31 L486.07 93.62 L487.04 93.94 L488.01 94.26 L488.98 94.58 L489.94 94.91 L490.91 95.24 L491.87 95.58 L492.84 95.92 L493.80 96.26 L494.76 96.61 L495.72 96.97 L496.67 97.33 L497.63 97.69 L498.58 98.06 L499.53 98.43 L500.48 98.81 L501.43 99.19 L502.37 99.58 L503.31 99.97 L504.26 100.37 L505.19 100.77 L506.13 101.17 L507.07 101.58 L508.00 102.00" fill="none" stroke="#ff0000" stroke-width="1.9" stroke-linejoin="round"/>
<path d="M103.50 258.60 L104.33 258.62 L105.17 258.64 L106.00 258.67 L106.83 258.69 L107.67 258.71 L108.50 258.74 L109.33 258.76 L110.17 258.79 L111.00 258.81 L111.83 258.84 L112.66 258.87 L113.50 258.89 L114.33 258.92 L115.16 258.95 L116.00 258.98 L116.83 259.01 L117.66 259.04 L118.50 259.07 L119.33 259.10 L120.16 259.13 L120.99 259.17 L121.83 259.20 L122.66 259.23 L123.49 259.27 L124.33 259.30 L125.16 259.34 L125.99 259.38 L126.82 259.41 L127.66 259.45 L128.49 259.49 L129.32 259.53 L130.15 259.57 L130.99 259.61 L131.82 259.65 L132.65 259.70 L133.48 259.74 L134.32 259.78 L135.15 259.83 L135.98 259.88 L136.81 259.92 L137.64 259.97 L138.48 260.02 L139.31 260.07 L140.14 260.12 L140.97 260.17 L141.80 260.22 L142.64 260.27 L143.47 260.33 L144.30 260.38 L145.13 260.44 L145.96 260.49 L146.79 260.55 L147.63 260.61 L148.46 260.67 L149.29 260.73 L150.12 260.79 L150.95 260.85 L151.78 260.92 L152.61 260.98 L153.44 261.05 L154.27 261.11 L155.11 261.18 L155.94 261.25 L156.77 261.32 L157.60 261.39 L158.43 261.46 L159.26 261.54 L160.09 261.61 L160.92 261.68 L161.75 261.76 L162.58 261.84 L163.41 261.92 L164.24 262.00 L165.07 262.08 L165.90 262.16 L166.73 262.24 L167.56 262.33 L168.38 262.41 L169.21 262.50 L170.04 262.59 L170.87 262.68 L171.70 262.77 L172.53 262.86 L173.36 262.95 L174.18 263.05 L175.01 263.14 L175.84 263.24 L176.67 263.34 L177.50 263.44 L178.32 263.54 L179.15 263.64 L179.98 263.74 L180.80 263.85 L181.63 263.95 L182.46 264.06 L183.28 264.17 L184.11 264.28 L184.94 264.39 L185.76 264.50 L186.59 264.62 L187.41 264.73 L188.24 264.85 L189.06 264.97 L189.89 265.09 L190.71 265.21 L191.54 265.33 L192.36 265.46 L193.18 265.58 L194.01 265.71 L194.83 265.84 L195.66 265.97 L196.48 266.10 L197.30 266.23 L198.12 266.36 L198.95 266.50 L199.77 266.63 L200.59 266.77 L201.41 266.91 L202.24 267.04 L203.06 267.18 L203.88 267.32 L204.70 267.46 L205.52 267.60 L206.34 267.75 L207.17 267.89 L207.99 268.03 L208.81 268.18 L209.63 268.32 L210.45 268.47 L211.27 268.62 L212.09 268.76 L212.91 268.91 L213.73 269.06 L214.55 269.21 L215.37 269.36 L216.19 269.51 L217.01 269.66 L217.83 269.81 L218.65 269.96 L219.47 270.11 L220.29 270.26 L221.11 270.41 L221.93 270.56 L222.75 270.72 L223.57 270.87 L224.39 271.02 L225.21 271.17 L226.03 271.32 L226.84 271.48 L227.66 271.63 L228.48 271.78 L229.30 271.93 L230.12 272.09 L230.94 272.24 L231.76 272.39 L232.58 272.54 L233.40 272.69 L234.22 272.85 L235.04 273.00 L235.86 273.15 L236.68 273.30 L237.50 273.45 L238.32 273.60 L239.14 273.75 L239.96 273.90 L240.78 274.05 L241.60 274.19 L242.42 274.34 L243.24 274.49 L244.06 274.63 L244.88 274.78 L245.70 274.92 L246.52 275.07 L247.34 275.21 L248.17 275.35 L248.99 275.50 L249.81 275.64 L250.63 275.78 L251.45 275.92 L252.27 276.05 L253.10 276.19 L253.92 276.33 L254.74 276.46 L255.56 276.60 L256.39 276.73 L257.21 276.86 L258.03 276.99 L258.86 277.12 L259.68 277.25 L260.50 277.38 L261.33 277.50 L262.15 277.63 L262.98 277.75 L263.80 277.87 L264.62 277.99 L265.45 278.11 L266.27 278.23 L267.10 278.35 L267.93 278.46 L268.75 278.57 L269.58 278.68 L270.40 278.79 L271.23 278.90 L272.06 279.01 L272.88 279.11 L273.71 279.22 L274.54 279.32 L275.37 279.42 L276.19 279.52 L277.02 279.62 L277.85 279.72 L278.68 279.81 L279.50 279.91 L280.33 280.00 L281.16 280.10 L281.99 280.19 L282.82 280.29 L283.64 280.38 L284.47 280.48 L285.30 280.57 L286.13 280.66 L286.96 280.76 L287.79 280.85 L288.61 280.95 L289.44 281.04 L290.27 281.14 L291.10 281.23 L291.93 281.33 L292.75 281.43 L293.58 281.52 L294.41 281.62 L295.24 281.72 L296.06 281.82 L296.89 281.93 L297.72 282.03 L298.54 282.14 L299.37 282.24 L300.20 282.35 L301.02 282.46 L301.85 282.57 L302.68 282.68 L303.50 282.80 L304.33 282.92 L305.15 283.03 L305.98 283.16 L306.80 283.28 L307.62 283.40 L308.45 283.53 L309.27 283.66 L310.09 283.79 L310.92 283.93 L311.74 284.07 L312.56 284.21 L313.38 284.35 L314.20 284.50 L315.02 284.65 L315.84 284.80 L316.66 284.96 L317.48 285.12 L318.29 285.29 L319.11 285.45 L319.93 285.63 L320.74 285.80 L321.55 285.98 L322.37 286.17 L323.18 286.36 L323.99 286.55 L324.80 286.75 L325.61 286.96 L326.41 287.17 L327.22 287.38 L328.02 287.60 L328.83 287.83 L329.63 288.06 L330.43 288.29 L331.22 288.54 L332.02 288.79 L332.81 289.04 L333.60 289.30 L334.39 289.57 L335.18 289.85 L335.96 290.13 L336.74 290.42 L337.52 290.72 L338.30 291.02 L339.07 291.33 L339.84 291.65 L340.61 291.98 L341.37 292.32 L342.13 292.66 L342.88 293.01 L343.64 293.38 L344.38 293.74 L345.13 294.12 L345.86 294.51 L346.60 294.91 L347.32 295.31 L348.05 295.73 L348.76 296.15 L349.48 296.59 L350.18 297.03 L350.88 297.49 L351.57 297.95 L352.26 298.42 L352.94 298.90 L353.61 299.39 L354.28 299.89 L354.94 300.40 L355.60 300.91 L356.25 301.44 L356.89 301.97 L357.53 302.51 L358.16 303.05 L358.78 303.61 L359.40 304.17 L360.01 304.73 L360.61 305.31 L361.21 305.89 L361.80 306.47 L362.39 307.06 L362.97 307.66 L363.55 308.26 L364.12 308.87 L364.68 309.49 L365.24 310.11 L365.79 310.73 L366.34 311.36 L366.88 311.99 L367.42 312.63 L367.95 313.27 L368.48 313.92 L369.00 314.57 L369.51 315.22 L370.03 315.88 L370.53 316.54 L371.04 317.20 L371.53 317.87 L372.03 318.54 L372.52 319.22 L373.00 319.90 L373.48 320.58 L373.96 321.26 L374.43 321.95 L374.90 322.64 L375.37 323.33 L375.83 324.02 L376.29 324.72 L376.74 325.42 L377.19 326.12 L377.64 326.82 L378.09 327.53 L378.53 328.23 L378.97 328.94 L379.40 329.65 L379.84 330.36 L380.27 331.08 L380.69 331.79 L381.12 332.51 L381.54 333.23 L381.96 333.95 L382.38 334.67 L382.79 335.39 L383.21 336.12 L383.62 336.84 L384.03 337.57 L384.44 338.29 L384.84 339.02 L385.25 339.75 L385.65 340.48 L386.05 341.21 L386.45 341.94 L386.85 342.67 L387.25 343.41 L387.65 344.14 L388.04 344.87 L388.44 345.61 L388.83 346.34 L389.22 347.08 L389.62 347.81 L390.01 348.55 L390.40 349.28 L390.79 350.02 L391.18 350.75 L391.57 351.49 L391.96 352.23 L392.36 352.96 L392.75 353.70 L393.14 354.43 L393.53 355.17 L393.92 355.91 L394.32 356.64 L394.71 357.37 L395.10 358.11 L395.50 358.84 L395.90 359.58 L396.30 360.31 L396.70 361.04 L397.10 361.77 L397.50 362.50" fill="none" stroke="#0000f0" stroke-width="1.9" stroke-linejoin="round"/>
<path d="M103.50 267.70 L104.15 267.72 L104.81 267.75 L105.46 267.77 L106.12 267.80 L106.77 267.82 L107.42 267.85 L108.08 267.87 L108.73 267.89 L109.38 267.92 L110.04 267.94 L110.69 267.97 L111.35 267.99 L112.00 268.01 L112.65 268.04 L113.31 268.06 L113.96 268.09 L114.61 268.11 L115.27 268.13 L115.92 268.16 L116.58 268.18 L117.23 268.21 L117.88 268.23 L118.54 268.26 L119.19 268.29 L119.84 268.31 L120.50 268.34 L121.15 268.37 L121.81 268.40 L122.46 268.42 L123.11 268.45 L123.77 268.48 L124.42 268.51 L125.07 268.54 L125.73 268.57 L126.38 268.60 L127.03 268.64 L127.69 268.67 L128.34 268.70 L128.99 268.74 L129.65 268.77 L130.30 268.81 L130.95 268.85 L131.61 268.88 L132.26 268.92 L132.91 268.96 L133.57 269.00 L134.22 269.04 L134.87 269.08 L135.52 269.13 L136.18 269.17 L136.83 269.22 L137.48 269.26 L138.14 269.31 L138.79 269.36 L139.44 269.41 L140.09 269.46 L140.74 269.51 L141.40 269.56 L142.05 269.62 L142.70 269.67 L143.35 269.73 L144.00 269.79 L144.66 269.85 L145.31 269.91 L145.96 269.97 L146.61 270.04 L147.26 270.10 L147.91 270.17 L148.56 270.24 L149.21 270.31 L149.86 270.38 L150.51 270.46 L151.16 270.54 L151.81 270.61 L152.46 270.70 L153.11 270.78 L153.76 270.86 L154.41 270.95 L155.05 271.04 L155.70 271.13 L156.35 271.22 L157.00 271.32 L157.64 271.42 L158.29 271.52 L158.94 271.62 L159.58 271.72 L160.23 271.83 L160.87 271.94 L161.52 272.05 L162.16 272.17 L162.81 272.28 L163.45 272.40 L164.09 272.53 L164.73 272.65 L165.37 272.78 L166.02 272.91 L166.66 273.04 L167.30 273.18 L167.94 273.32 L168.57 273.46 L169.21 273.61 L169.85 273.76 L170.49 273.91 L171.12 274.06 L171.76 274.22 L172.39 274.38 L173.02 274.55 L173.66 274.71 L174.29 274.88 L174.92 275.06 L175.55 275.23 L176.18 275.41 L176.81 275.59 L177.43 275.78 L178.06 275.97 L178.69 276.16 L179.31 276.35 L179.93 276.55 L180.56 276.75 L181.18 276.95 L181.80 277.16 L182.42 277.37 L183.04 277.58 L183.66 277.80 L184.27 278.01 L184.89 278.23 L185.50 278.46 L186.12 278.68 L186.73 278.91 L187.34 279.15 L187.95 279.38 L188.56 279.62 L189.17 279.86 L189.78 280.10 L190.38 280.35 L190.99 280.60 L191.59 280.85 L192.20 281.10 L192.80 281.36 L193.40 281.62 L194.00 281.88 L194.60 282.15 L195.19 282.42 L195.79 282.69 L196.38 282.96 L196.98 283.24 L197.57 283.51 L198.16 283.80 L198.75 284.08 L199.34 284.37 L199.92 284.65 L200.51 284.95 L201.09 285.24 L201.68 285.54 L202.26 285.84 L202.84 286.14 L203.42 286.44 L203.99 286.75 L204.57 287.06 L205.15 287.37 L205.72 287.69 L206.29 288.00 L206.86 288.32 L207.43 288.65 L208.00 288.97 L208.57 289.30 L209.13 289.63 L209.70 289.96 L210.26 290.29 L210.82 290.63 L211.38 290.97 L211.94 291.31 L212.49 291.66 L213.05 292.00 L213.60 292.35 L214.15 292.70 L214.70 293.06 L215.25 293.41 L215.80 293.77 L216.35 294.13 L216.89 294.49 L217.43 294.86 L217.97 295.23 L218.51 295.60 L219.05 295.97 L219.59 296.34 L220.12 296.72 L220.66 297.10 L221.19 297.48 L221.72 297.86 L222.25 298.25 L222.77 298.63 L223.30 299.02 L223.82 299.42 L224.35 299.81 L224.87 300.21 L225.38 300.61 L225.90 301.01 L226.42 301.41 L226.93 301.82 L227.44 302.22 L227.95 302.63 L228.46 303.05 L228.97 303.46 L229.47 303.88 L229.97 304.29 L230.48 304.71 L230.98 305.14 L231.47 305.56 L231.97 305.99 L232.46 306.42 L232.96 306.85 L233.45 307.28 L233.94 307.71 L234.42 308.15 L234.91 308.59 L235.39 309.03 L235.88 309.47 L236.36 309.92 L236.83 310.36 L237.31 310.81 L237.79 311.26 L238.26 311.71 L238.73 312.16 L239.20 312.62 L239.67 313.08 L240.14 313.54 L240.60 314.00 L241.06 314.46 L241.52 314.92 L241.98 315.39 L242.44 315.86 L242.89 316.33 L243.35 316.80 L243.80 317.27 L244.25 317.75 L244.70 318.22 L245.15 318.70 L245.59 319.18 L246.03 319.66 L246.48 320.14 L246.91 320.63 L247.35 321.12 L247.79 321.60 L248.22 322.09 L248.66 322.58 L249.09 323.08 L249.52 323.57 L249.94 324.06 L250.37 324.56 L250.79 325.06 L251.21 325.56 L251.63 326.06 L252.05 326.56 L252.47 327.07 L252.88 327.57 L253.30 328.08 L253.71 328.59 L254.12 329.10 L254.53 329.61 L254.93 330.12 L255.34 330.64 L255.74 331.15 L256.14 331.67 L256.54 332.19 L256.94 332.71 L257.34 333.23 L257.73 333.75 L258.12 334.27 L258.51 334.80 L258.90 335.32 L259.29 335.85 L259.68 336.38 L260.06 336.91 L260.44 337.44 L260.82 337.97 L261.20 338.51 L261.58 339.04 L261.96 339.58 L262.33 340.11 L262.70 340.65 L263.07 341.19 L263.44 341.73 L263.81 342.27 L264.18 342.81 L264.54 343.36 L264.90 343.90 L265.26 344.45 L265.62 344.99 L265.98 345.54 L266.34 346.09 L266.69 346.64 L267.04 347.19 L267.40 347.74 L267.74 348.30 L268.09 348.85 L268.44 349.41 L268.78 349.96 L269.13 350.52 L269.47 351.08 L269.81 351.64 L270.15 352.20 L270.48 352.76 L270.82 353.32 L271.15 353.88 L271.48 354.44 L271.81 355.01 L272.14 355.57 L272.47 356.14 L272.80 356.71 L273.12 357.28 L273.44 357.85 L273.76 358.42 L274.08 358.99 L274.40 359.56 L274.72 360.13 L275.03 360.70 L275.35 361.28 L275.66 361.85 L275.97 362.43 L276.28 363.01 L276.59 363.58 L276.89 364.16 L277.20 364.74 L277.50 365.32 L277.80 365.90 L278.10 366.48 L278.40 367.07 L278.70 367.65 L278.99 368.23 L279.29 368.82 L279.58 369.40 L279.87 369.99 L280.16 370.57 L280.45 371.16 L280.73 371.75 L281.02 372.34 L281.30 372.93 L281.58 373.52 L281.87 374.11 L282.14 374.70 L282.42 375.29 L282.70 375.89 L282.97 376.48 L283.25 377.07 L283.52 377.67 L283.79 378.26 L284.06 378.86 L284.33 379.46 L284.60 380.05 L284.86 380.65 L285.12 381.25 L285.39 381.85 L285.65 382.45 L285.91 383.05 L286.17 383.65 L286.42 384.25 L286.68 384.86 L286.93 385.46 L287.19 386.06 L287.44 386.67 L287.69 387.27 L287.94 387.88 L288.18 388.48 L288.43 389.09 L288.67 389.70 L288.92 390.30 L289.16 390.91 L289.40 391.52 L289.64 392.13 L289.88 392.74 L290.11 393.35 L290.35 393.96 L290.58 394.57 L290.81 395.18 L291.04 395.79 L291.27 396.40 L291.50 397.02 L291.73 397.63 L291.96 398.25 L292.18 398.86 L292.40 399.47 L292.63 400.09 L292.85 400.71 L293.07 401.32 L293.28 401.94 L293.50 402.56 L293.72 403.17 L293.93 403.79 L294.14 404.41 L294.35 405.03 L294.56 405.65 L294.77 406.27 L294.98 406.89 L295.19 407.51 L295.39 408.13 L295.60 408.75 L295.80 409.38 L296.00 410.00" fill="none" stroke="#ff00ff" stroke-width="1.9" stroke-linejoin="round"/>
</g>
<path d="M127.56 410.40 V405.10 M127.56 18.40 V23.70 M147.73 410.40 V405.10 M147.73 18.40 V23.70 M165.20 410.40 V405.10 M165.20 18.40 V23.70 M180.61 410.40 V405.10 M180.61 18.40 V23.70 M194.40 410.40 V405.10 M194.40 18.40 V23.70 M285.10 410.40 V405.10 M285.10 18.40 V23.70 M338.16 410.40 V405.10 M338.16 18.40 V23.70 M375.80 410.40 V405.10 M375.80 18.40 V23.70 M405.00 410.40 V405.10 M405.00 18.40 V23.70 M428.86 410.40 V405.10 M428.86 18.40 V23.70 M449.03 410.40 V405.10 M449.03 18.40 V23.70 M466.50 410.40 V405.10 M466.50 18.40 V23.70 M481.91 410.40 V405.10 M481.91 18.40 V23.70 M103.70 370.51 H109.00 M495.70 370.51 H490.40 M103.70 336.79 H109.00 M495.70 336.79 H490.40 M103.70 307.57 H109.00 M495.70 307.57 H490.40 M103.70 281.80 H109.00 M495.70 281.80 H490.40 M103.70 258.75 H109.00 M495.70 258.75 H490.40 M103.70 107.11 H109.00 M495.70 107.11 H490.40" stroke="#333" stroke-width="0.7" fill="none"/>
<rect x="103.70" y="18.40" width="392.00" height="392.00" fill="none" stroke="#000" stroke-width="0.95"/>
<text transform="translate(103.10,441.90)" font-size="24.00" fill="#000" text-anchor="middle">50</text>
<text transform="translate(194.10,441.90)" font-size="24.00" fill="#000" text-anchor="middle">100</text>
<text transform="translate(338.76,441.90)" font-size="24.00" fill="#000" text-anchor="middle">300</text>
<text transform="translate(494.30,441.90)" font-size="24.00" fill="#000" text-anchor="middle">1000</text>
<text transform="translate(73.60,419.30)" font-size="24.00" fill="#000" text-anchor="middle">0.5</text>
<text transform="translate(74.30,268.20)" font-size="24.00" fill="#000" text-anchor="middle">1</text>
<text transform="translate(74.80,116.00)" font-size="24.00" fill="#000" text-anchor="middle">2</text>
<text transform="translate(75.00,28.60)" font-size="24.00" fill="#000" text-anchor="middle">3</text>
<text transform="translate(313.40,476.40) scale(0.9510,1.0000)" font-size="24.40" fill="#000" text-anchor="middle">Wino mass (GeV)</text>
<text transform="translate(37.30,193.40) rotate(-90) scale(0.9630,1.0000)" font-size="24.40" fill="#000" text-anchor="middle">Gluino mass (TeV)</text>
<text transform="translate(200.00,46.20) scale(0.9450,1.0000)" font-size="16.50" fill="#008c00" text-anchor="start">14TeV (w/ track)</text>
<text transform="translate(318.00,46.20) scale(0.9450,1.0000)" font-size="16.50" fill="#008c00" text-anchor="start">[</text>
<text transform="translate(326.40,46.20) scale(0.9450,1.0000)" font-size="18.50" fill="#008c00" text-anchor="start" font-family="Liberation Serif">ε</text>
<text transform="translate(335.40,46.40) scale(0.9450,0.8000)" font-size="16.50" fill="#008c00" text-anchor="start">=</text>
<text transform="translate(348.70,46.20) scale(0.9450,1.0000)" font-size="16.50" fill="#008c00" text-anchor="start">0.01]</text>
<text transform="translate(199.60,109.20) scale(0.9450,1.0000)" font-size="16.50" fill="#ff0000" text-anchor="start">14TeV (w/o track)</text>
<text transform="translate(371.50,163.50) scale(0.9450,1.0000)" font-size="16.50" fill="#00f000" text-anchor="middle">14TeV (w/ track)</text>
<text transform="translate(344.50,183.50) scale(0.9450,1.0000)" font-size="16.50" fill="#00f000" text-anchor="start">[</text>
<text transform="translate(350.40,183.50) scale(0.9450,1.0000)" font-size="18.50" fill="#00f000" text-anchor="start" font-family="Liberation Serif">ε</text>
<text transform="translate(361.70,183.70) scale(0.9450,0.8000)" font-size="16.50" fill="#00f000" text-anchor="start">=</text>
<text transform="translate(375.30,183.50) scale(0.9450,1.0000)" font-size="16.50" fill="#00f000" text-anchor="start">0.1]</text>
<text transform="translate(249.00,270.00) scale(0.9450,1.0000)" font-size="16.50" fill="#0000f0" text-anchor="start">7TeV (w/o track)</text>
<text transform="translate(220.90,349.10) scale(0.9450,1.0000)" font-size="16.50" fill="#ff00ff" text-anchor="middle">7TeV</text>
<text transform="translate(221.80,368.90) scale(0.9450,1.0000)" font-size="16.50" fill="#ff00ff" text-anchor="middle">(w/ track)</text>
<text transform="translate(165.90,182.00) rotate(-90) scale(0.9450,1.0000)" font-size="16.50" fill="#000" text-anchor="middle">LEP bound</text>
<text transform="translate(396.00,279.50) scale(0.9450,1.0000)" font-size="16.50" fill="#000" text-anchor="start">m</text>
<text transform="translate(410.90,282.70) scale(1.0600,1.0000)" font-size="11.00" fill="#000" text-anchor="start">wino</text>
<text transform="translate(411.00,299.00) scale(0.9450,1.0000)" font-size="15.00" fill="#000" text-anchor="start">&gt;</text>
<text transform="translate(425.00,297.40) scale(0.9450,1.0000)" font-size="16.50" fill="#000" text-anchor="start">m</text>
<text transform="translate(439.60,300.60) scale(1.0600,1.0000)" font-size="11.00" fill="#000" text-anchor="start">bino</text>
<text transform="translate(432.40,379.00) scale(0.9450,1.0000)" font-size="16.50" fill="#000" text-anchor="start">m</text>
<text transform="translate(446.80,382.40) scale(1.0600,1.0000)" font-size="11.00" fill="#000" text-anchor="start">wino</text>
<text transform="translate(433.00,399.00) scale(0.9450,1.0000)" font-size="15.00" fill="#000" text-anchor="start">&gt;</text>
<text transform="translate(446.40,397.40) scale(0.9450,1.0000)" font-size="16.50" fill="#000" text-anchor="start">m</text>
<text transform="translate(461.60,401.40) scale(1.0600,1.0000)" font-size="11.00" fill="#000" text-anchor="start">gluino</text>
</svg>
</body></html>
